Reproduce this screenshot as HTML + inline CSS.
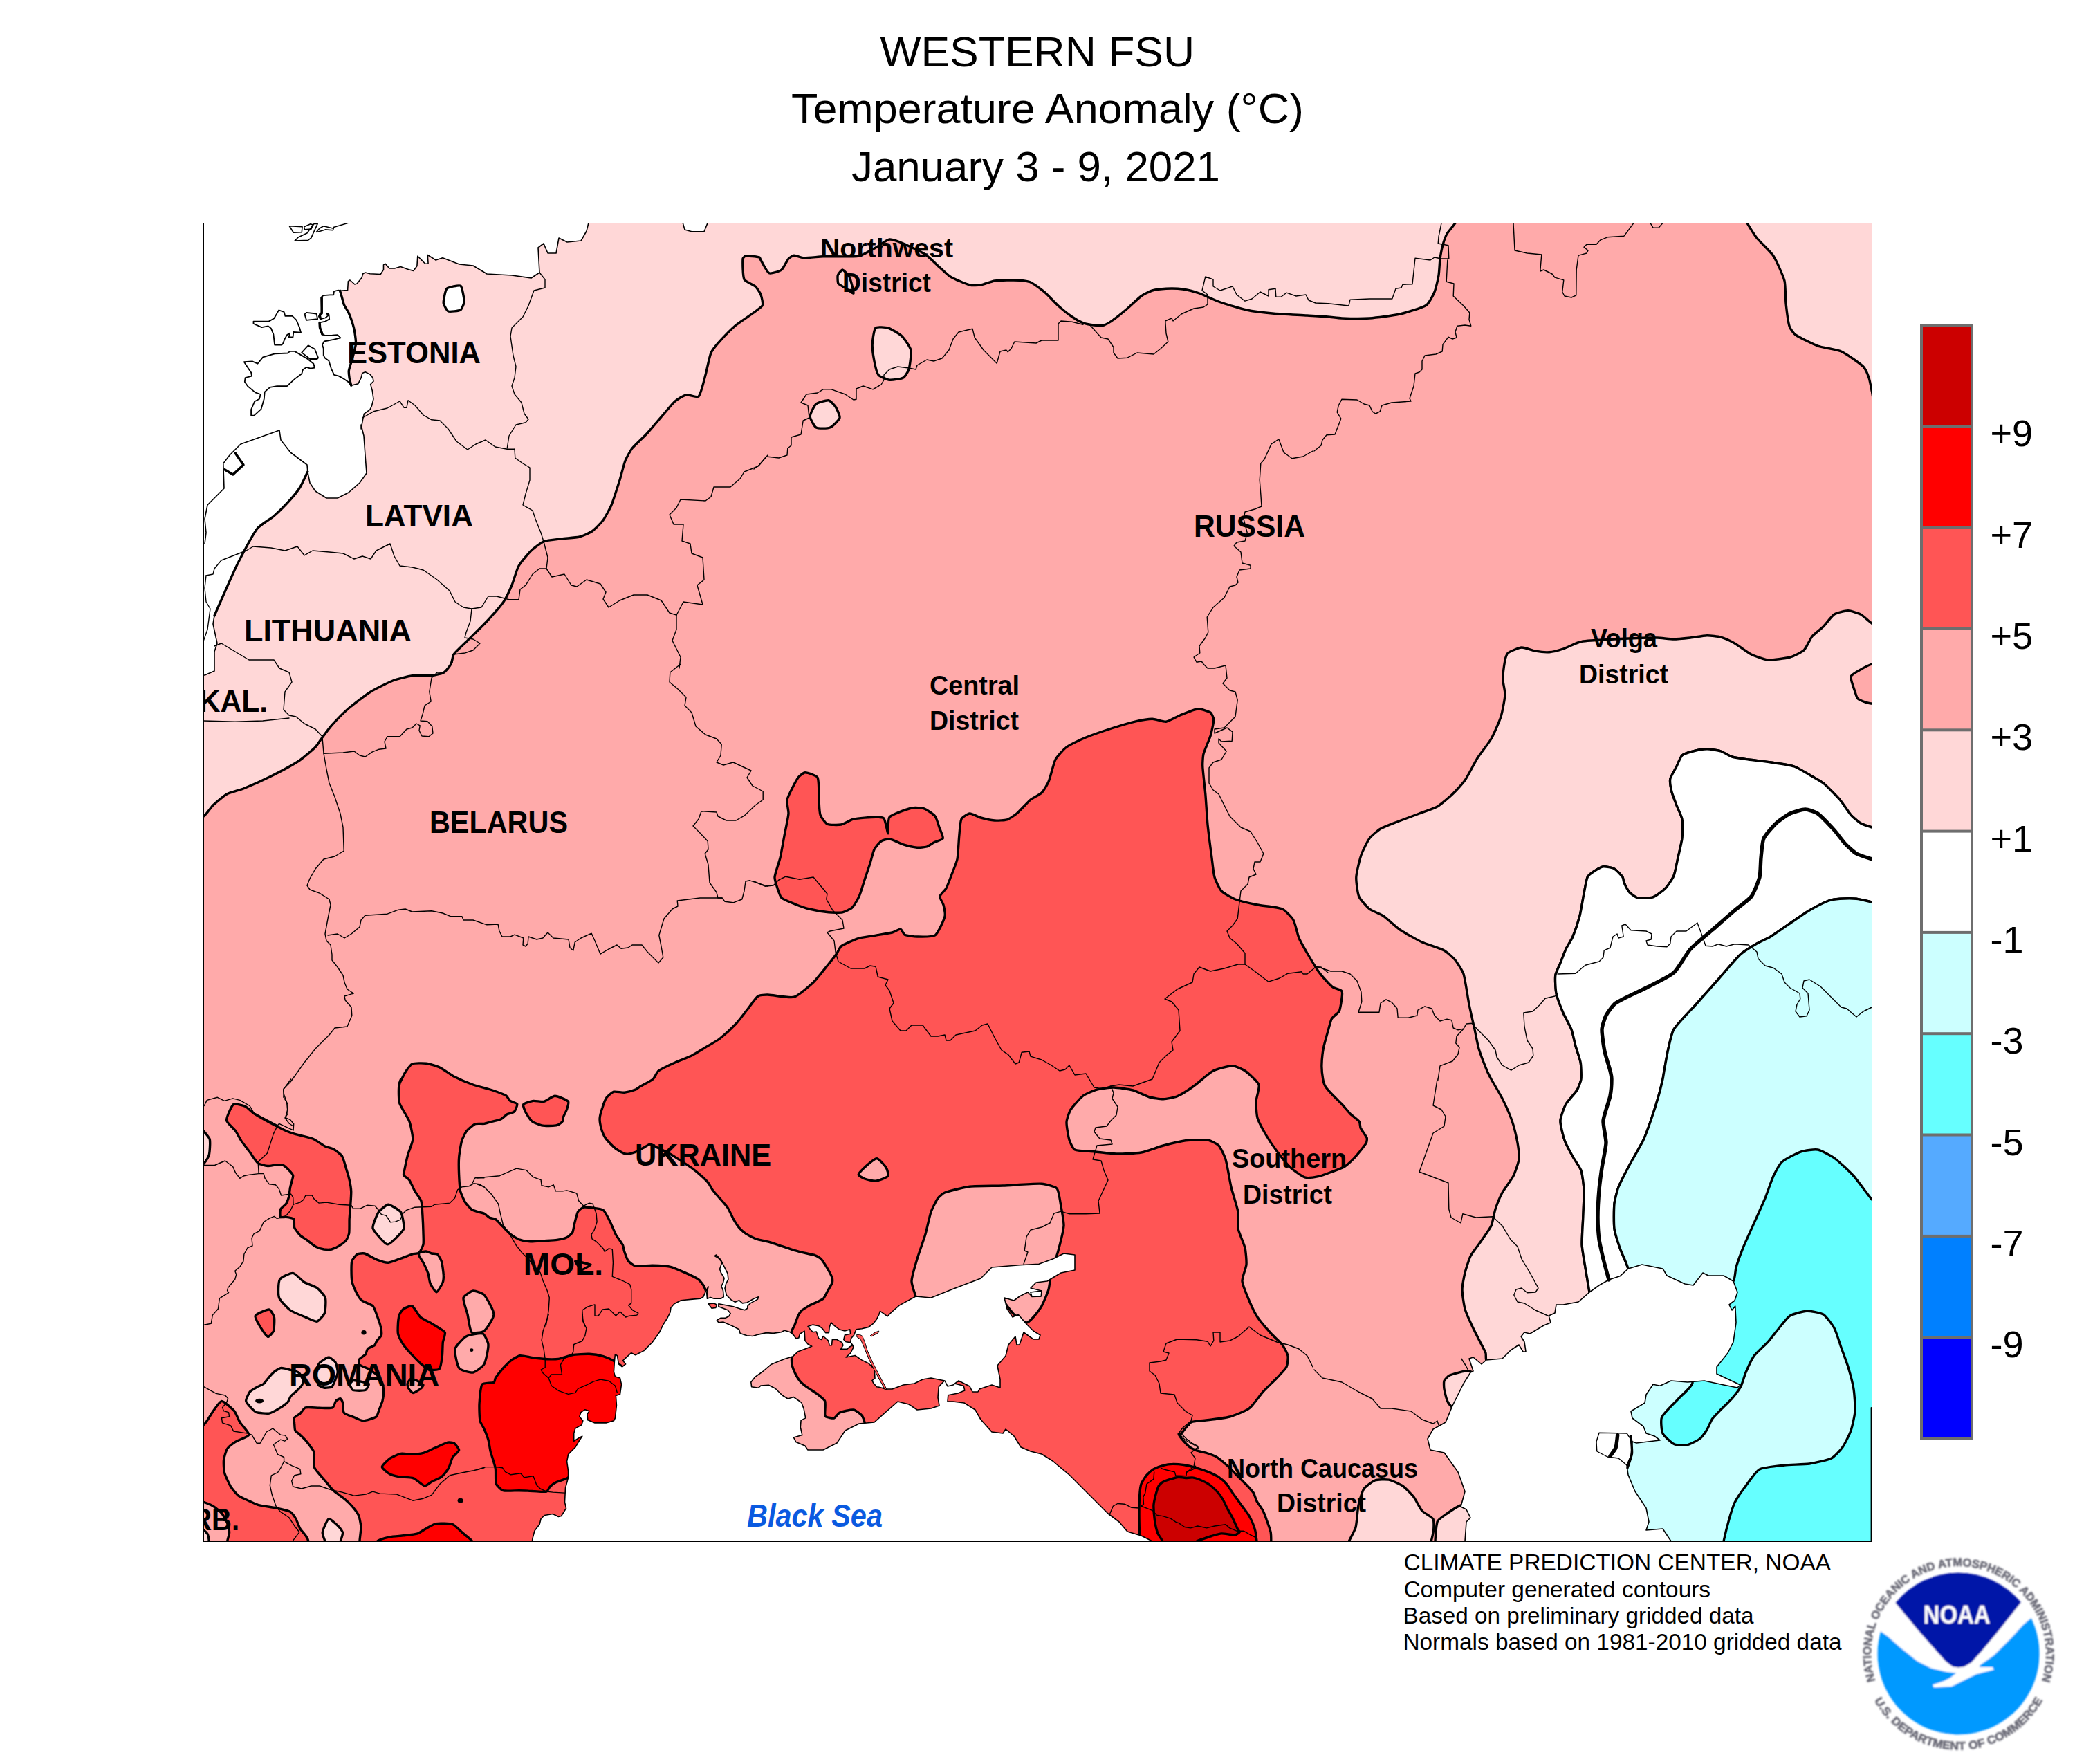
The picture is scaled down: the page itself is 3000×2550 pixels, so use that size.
<!DOCTYPE html>
<html><head><meta charset="utf-8"><title>Western FSU Temperature Anomaly</title>
<style>
html,body{margin:0;padding:0;background:#fff;}
body{width:3000px;height:2550px;overflow:hidden;font-family:"Liberation Sans",sans-serif;}
svg{display:block;}
text{font-family:"Liberation Sans",sans-serif;}
</style></head><body>
<svg width="3000" height="2550" viewBox="0 0 3000 2550">
<defs><clipPath id="mapclip"><rect x="294.5" y="322.5" width="2412.0" height="1906.0"/></clipPath></defs>
<rect width="3000" height="2550" fill="#fff"/>
<g clip-path="url(#mapclip)">
<rect x="294.5" y="322.5" width="2412.0" height="1906.0" fill="#FFAAAA"/>
<g stroke-linejoin="round" stroke-linecap="round">
<path d="M270 1185C270.1 1189.8 290.3 1182.3 294.4 1180C297.9 1178.1 305 1166.9 308 1164C311.7 1160.5 323.6 1150.4 328 1148C332.4 1145.6 347.3 1141.9 352 1140C360.1 1136.7 384.2 1125.9 392 1122C400.2 1117.9 424.4 1105 432 1100C437.2 1096.6 451.6 1084.4 456 1080C458.4 1077.6 463.9 1068.8 466 1066C468.7 1062.4 476.9 1051.4 480 1048C484.5 1043 498.9 1028.4 504 1024C510.1 1018.8 529.2 1004.2 536 1000C542 996.2 561.4 986.6 568 984C573.4 981.9 590.3 977.6 596 976.8C602.3 976 621.7 976.7 628 976C630.9 975.7 639.7 973.5 642 972C644.5 970.3 650.6 962.7 652 960C653.4 957.5 654.4 948.3 656 946C659.2 941.5 672 930 676 926C681.6 920.4 698.6 903.8 704 898C709 892.6 723.8 876 728 870C731 865.6 737.9 850.9 740 846C742.3 840.5 747.1 823.1 750 818C752.7 813.1 764 799.9 768 796C771.2 792.9 782 784.4 786 782.8C790.8 780.9 806.8 779.5 812 778.8C817.2 778.1 833 777.2 838 776C841.8 775.1 852.8 770.2 856 768C859.6 765.4 869.3 755.6 872 752C874.9 748 882.1 734.6 884 730C886.9 723 893.7 701.2 896 694C897.7 688.4 901.9 671.4 904 666C905.5 662.2 911.5 651.2 914 648C917.9 643.2 931.8 630.6 936 626C941 620.6 955.2 603.6 960 598C963.2 594.4 972.4 583.1 976 580C978.8 577.6 988.6 571.5 992 570.8C995.4 570.1 1008 575.3 1010 573.2C1013.6 569.5 1018.2 548.3 1020 542C1021.8 535.7 1025.5 516 1028 510C1029.5 506.4 1037.3 497 1040 494C1044.5 489 1058.8 474.4 1064 470C1071.2 464 1096.6 448.6 1102 442C1103.8 439.8 1101.1 429 1100 426C1099.1 423.4 1094.1 415.9 1092 414C1089.3 411.5 1077.4 407.1 1076 404C1073.8 399.1 1073.7 379.7 1074 374C1074.1 372.9 1076.9 370.1 1078 370C1081.7 369.7 1094.4 371 1098 372C1098.8 372.2 1099.5 375.2 1100 376C1102.3 379.8 1108.7 393.3 1112 394.8C1114.7 396.1 1127.2 392.1 1130 390C1132.8 387.9 1137.6 376.8 1140 374C1141.2 372.6 1146.3 369.3 1148 369.2C1150.7 369.1 1159.1 372.7 1162 372.8C1167.5 373 1184.4 371 1190 370.8C1200.4 370.4 1232 371.7 1242 370C1247.2 369.1 1261.3 360.6 1266 358C1270.1 355.8 1281.8 346.6 1286 346C1289.8 345.4 1302.2 350.4 1306 352C1312.6 354.8 1332.1 364.1 1338 368C1342.5 370.9 1354 382.4 1358 386C1361.2 388.8 1370.4 397.9 1374 400C1379.2 403.1 1396.2 410.4 1402 412C1405 412.8 1414.9 412.5 1418 412C1422.1 411.3 1433.9 406.5 1438 406C1445.1 405.1 1466.8 404.9 1474 405.2C1477.2 405.3 1487.1 406.7 1490 408C1494.3 410 1506.3 418.8 1510 422C1514.3 425.6 1525.8 438.2 1530 442C1533.8 445.4 1545.8 455.1 1550 458C1553 460.1 1562.6 465.5 1566 466.8C1569 467.9 1578.8 469.7 1582 470C1584.8 470.3 1593.4 470.7 1596 470C1599 469.1 1607.4 463.9 1610 462C1614.2 459.1 1626.1 449.3 1630 446C1634.1 442.5 1645.7 431.1 1650 428C1652.9 425.9 1662.6 421 1666 420C1669.8 418.9 1682 417.4 1686 417.2C1690.8 417 1705.3 417.3 1710 418C1714.9 418.7 1729.3 422.4 1734 424C1739.7 426 1756.3 434 1762 436C1769.9 438.8 1793.9 446.3 1802 448C1809.9 449.7 1834 452.5 1842 453.2C1851.6 454.1 1880.4 455.4 1890 456C1896 456.4 1914 457.5 1920 458C1924 458.3 1936 459.9 1940 460C1948 460.3 1972 460.6 1980 460C1988.8 459.4 2015.4 456 2024 454C2031.8 452.2 2055.6 445.3 2062 441.2C2065.6 438.9 2072.3 426.1 2074 422C2075.9 417.5 2079.2 402.9 2080 398C2080.8 393.3 2081.4 378.8 2082 374C2082.6 370 2084.9 357.9 2086 354C2086.9 350.7 2090.3 340.9 2092 338C2093.9 334.6 2102 325.7 2104 322.4C2106.4 318.5 2113.2 306.2 2114 302C2114.4 299.7 2112.5 290 2110 290C1743.7 287.6 517.6 169.6 270 290C149.6 348.6 265.3 1011.8 270 1185Z" fill="#FFD7D7" stroke="#000" stroke-width="3.4"/>
<path d="M2518 306C2514.8 306.3 2524.2 319.2 2526 322.4C2528.6 326.8 2536.8 340 2540 344C2544.4 349.5 2560.2 364.1 2564 370C2568.2 376.5 2578 398.5 2580 406C2581.6 412.1 2581.3 431.6 2582 438C2582.7 444.8 2585.2 465.6 2587.2 472C2588 474.8 2593.6 482.4 2596 484C2601.8 488 2621.3 497.6 2628 500C2634.5 502.4 2655.7 505.2 2662 508C2668.9 511.2 2688.5 524.8 2694 530C2696.5 532.4 2700.8 542.6 2702 546C2703.3 549.8 2705.5 562 2706.4 566C2707.5 570.8 2709.2 587.4 2712 590C2714.3 592.2 2731.7 593.7 2732 590C2735.7 536.9 2756.4 338.4 2732 306C2713.6 281.6 2556 303 2518 306Z" fill="#FFD7D7" stroke="#000" stroke-width="3.4"/>
<path d="M2724 910C2723.8 906.2 2709.7 903.3 2706.4 901.2C2702.9 898.9 2693.6 889.9 2690 888C2686.8 886.3 2675.6 882.8 2672 882.8C2668 882.8 2655.3 885.9 2652 888C2648.1 890.5 2639.4 902.6 2636 906C2633 909 2622.7 916.8 2620 920C2617.1 923.6 2611.3 936.9 2608 940C2604.9 942.9 2592.3 948.9 2588 950C2581.9 951.7 2562.3 954.4 2556 954C2551.1 953.6 2536.5 948.2 2532 946C2526.9 943.4 2513 932.8 2508 930C2504.2 927.9 2492.2 922.4 2488 921.2C2484.2 920.1 2472 918.7 2468 918.8C2463.2 918.9 2448.8 921.5 2444 922C2439.2 922.5 2424.8 924 2420 924C2415.2 924 2400.8 922.1 2396 922C2386.4 921.9 2357.6 922.8 2348 923.2C2338.4 923.6 2309.6 925.3 2300 926C2296.8 926.2 2287.1 927.1 2284 928C2279.1 929.5 2264.9 936.3 2260 938C2256.1 939.3 2244 942.5 2240 942.8C2236 943.1 2223.9 941.9 2220 941.2C2215.9 940.5 2203.9 935.7 2200 936C2195.9 936.3 2183.2 941.6 2180 944C2178.4 945.2 2176.4 951.9 2176 954C2175 959.5 2172.8 976.4 2172.8 982C2172.8 986.4 2176.2 999.6 2176 1004C2175.7 1010.4 2171.9 1029.8 2170 1036C2167.9 1042.6 2159.4 1062 2156 1068C2152.6 1074 2139.7 1090.2 2136 1096C2132.1 1102.2 2122.2 1122 2118 1128C2115 1132.4 2103.9 1144.3 2100 1148C2095.9 1151.9 2082.8 1163.2 2078 1166C2073.2 1168.8 2057.2 1174 2052 1176C2045.6 1178.4 2026.4 1185.5 2020 1188C2015.2 1189.9 2000.4 1195.4 1996 1198C1992.4 1200.2 1982.5 1208.6 1980 1212C1976.9 1216.2 1969.7 1231 1968 1236C1965.9 1242.2 1961.1 1261.6 1960.8 1268C1960.5 1273.6 1962.7 1291 1964.8 1296C1966.5 1300.2 1976.4 1311.1 1980 1314C1983.4 1316.7 1996.3 1321.5 2000 1324C2005.1 1327.5 2018.9 1340.5 2024 1344C2030.1 1348.1 2049.4 1358.9 2056 1362C2062.2 1364.9 2082.1 1370.8 2088 1374C2091.7 1376 2101.3 1384.8 2104 1388C2106.9 1391.6 2114.6 1403.6 2116 1408C2118.6 1416.4 2122.2 1443.2 2124 1452C2125.4 1459.2 2130.4 1480.8 2132 1488C2133.2 1493.6 2136.4 1510.5 2138 1516C2140 1522.5 2147.4 1541.7 2150 1548C2151 1550.5 2154.7 1557.6 2156 1560C2159.1 1565.6 2169.1 1582.2 2172 1588C2175.1 1594.2 2183.7 1613.4 2186 1620C2188.1 1626.2 2192.8 1645.5 2194 1652C2194.8 1656.7 2196.6 1671.3 2196 1676C2195.4 1680.9 2190.2 1695.5 2188 1700C2185.4 1705.1 2174.7 1719 2172 1724C2169.5 1728.6 2163.6 1743.1 2162 1748C2160.4 1752.7 2158 1767.6 2156 1772C2153.6 1777.2 2143.2 1791.2 2140 1796C2137.2 1800 2128.2 1811.7 2126 1816C2123.8 1820.5 2119.2 1835.1 2118 1840C2116.8 1844.7 2114 1859.2 2114 1864C2114 1869.6 2116.5 1886.6 2118 1892C2119.3 1897 2125.8 1911.3 2128 1916C2130.2 1920.9 2137.6 1935.2 2140 1940C2141.6 1943.2 2146.9 1952.7 2148 1956C2148.6 1957.9 2147.9 1964.2 2148.8 1966C2154.3 1977 2171.3 2022.6 2180 2020C2202.3 2013.4 2286.2 1942.9 2304 1920C2309.8 1912.5 2299.4 1878.4 2298 1868C2297 1860.8 2293.1 1839.2 2292 1832C2291 1825.6 2287.5 1806.4 2287.2 1800C2286.8 1792 2288.5 1768 2288.8 1760C2289.1 1752 2290.3 1728 2290 1720C2289.8 1714.4 2287.8 1697.3 2286 1692C2284.6 1687.7 2276.2 1676.1 2274 1672C2271.4 1667.3 2263.7 1653 2262 1648C2260.1 1642.6 2255.8 1625.5 2256 1620C2256.2 1615.1 2261.6 1600.4 2264 1596C2266.4 1591.6 2277.4 1580.3 2280 1576C2281.8 1573.1 2285.6 1563.3 2286 1560C2286.6 1555.3 2286 1540.7 2285.2 1536C2284.4 1531.1 2279.3 1516.8 2278 1512C2276.7 1507.2 2273.7 1492.6 2272 1488C2270.1 1483 2262.1 1468.9 2260 1464C2257.7 1458.5 2251.2 1441.8 2250 1436C2249 1431 2248.1 1415 2248.8 1410C2249.3 1406.2 2254.6 1395.6 2256 1392C2257.6 1388 2262.2 1375.9 2264 1372C2265.8 1368.3 2272.4 1357.8 2274 1354C2276.4 1348.2 2282.4 1330.1 2284 1324C2285.6 1317.7 2288.7 1298.4 2290 1292C2291 1287.2 2293.3 1272.3 2295.2 1268C2296.1 1265.9 2302 1261.3 2304 1260C2306.6 1258.3 2315.1 1253.2 2318 1252.8C2321.1 1252.4 2331.3 1254.5 2334 1256C2336.9 1257.5 2344.1 1265.3 2346 1268C2346.9 1269.3 2347.3 1274.5 2348 1276C2349.3 1278.9 2353.9 1287.7 2356 1290C2357.9 1292.1 2365.3 1297.5 2368 1298C2372.1 1298.8 2386 1298.2 2390 1296.8C2394 1295.4 2405 1287.1 2408 1284C2411 1281 2418.4 1269.9 2420 1266C2422 1261.1 2424.8 1245.2 2426 1240C2427.2 1234.4 2431.4 1217.7 2432 1212C2432.6 1206.5 2432.9 1189.4 2432 1184C2431.3 1179.8 2425.5 1168 2424 1164C2422.5 1160 2417.8 1148.1 2416.8 1144C2416 1140.5 2414.1 1129.4 2414.8 1126C2415.6 1122.2 2422.2 1111.6 2424 1108C2425.6 1104.8 2429.5 1094.3 2432 1092C2434.3 1089.9 2444.7 1086.8 2448 1086C2451.9 1085 2464 1082.8 2468 1082.8C2472 1082.8 2484.2 1084.8 2488 1086C2491.4 1087.1 2500.6 1093 2504 1094C2508.6 1095.4 2523.2 1097.3 2528 1098C2534.4 1098.9 2553.6 1101 2560 1102C2566.8 1103 2587.5 1105.9 2594 1108C2598.7 1109.5 2611.6 1117.5 2616 1120C2620 1122.3 2632.4 1129.1 2636 1132C2641.2 1136.3 2655.6 1150.9 2660 1156C2663.6 1160.1 2672.4 1173.9 2676 1178C2678.4 1180.7 2686.9 1188.2 2690 1190C2693 1191.8 2703.1 1195 2706.4 1196C2709.9 1197 2723.8 1203.4 2724 1200C2727.3 1146.2 2727.3 966 2724 910Z" fill="#FFD7D7" stroke="#000" stroke-width="3.4"/>
<path d="M2724 1200C2723.5 1196.8 2709.9 1197 2706.4 1196C2703.1 1195 2693 1191.8 2690 1190C2686.9 1188.2 2678.4 1180.7 2676 1178C2672.4 1173.9 2663.6 1160.1 2660 1156C2655.6 1150.9 2641.2 1136.3 2636 1132C2632.4 1129.1 2620 1122.3 2616 1120C2611.6 1117.5 2598.7 1109.5 2594 1108C2587.5 1105.9 2566.8 1103 2560 1102C2553.6 1101 2534.4 1098.9 2528 1098C2523.2 1097.3 2508.6 1095.4 2504 1094C2500.6 1093 2491.4 1087.1 2488 1086C2484.2 1084.8 2472 1082.8 2468 1082.8C2464 1082.8 2451.9 1085 2448 1086C2444.7 1086.8 2434.3 1089.9 2432 1092C2429.5 1094.3 2425.6 1104.8 2424 1108C2422.2 1111.6 2415.6 1122.2 2414.8 1126C2414.1 1129.4 2416 1140.5 2416.8 1144C2417.8 1148.1 2422.5 1160 2424 1164C2425.5 1168 2431.3 1179.8 2432 1184C2432.9 1189.4 2432.6 1206.5 2432 1212C2431.4 1217.7 2427.2 1234.4 2426 1240C2424.8 1245.2 2422 1261.1 2420 1266C2418.4 1269.9 2411 1281 2408 1284C2405 1287.1 2394 1295.4 2390 1296.8C2386 1298.2 2372.1 1298.8 2368 1298C2365.3 1297.5 2357.9 1292.1 2356 1290C2353.9 1287.7 2349.3 1278.9 2348 1276C2347.3 1274.5 2346.9 1269.3 2346 1268C2344.1 1265.3 2336.9 1257.5 2334 1256C2331.3 1254.5 2321.1 1252.4 2318 1252.8C2315.1 1253.2 2306.6 1258.3 2304 1260C2302 1261.3 2296.1 1265.9 2295.2 1268C2293.3 1272.3 2291 1287.2 2290 1292C2288.7 1298.4 2285.6 1317.7 2284 1324C2282.4 1330.1 2276.4 1348.2 2274 1354C2272.4 1357.8 2265.8 1368.3 2264 1372C2262.2 1375.9 2257.6 1388 2256 1392C2254.6 1395.6 2249.3 1406.2 2248.8 1410C2248.1 1415 2249 1431 2250 1436C2251.2 1441.8 2257.7 1458.5 2260 1464C2262.1 1468.9 2270.1 1483 2272 1488C2273.7 1492.6 2276.7 1507.2 2278 1512C2279.3 1516.8 2284.4 1531.1 2285.2 1536C2286 1540.7 2286.6 1555.3 2286 1560C2285.6 1563.3 2281.8 1573.1 2280 1576C2277.4 1580.3 2266.4 1591.6 2264 1596C2261.6 1600.4 2256.2 1615.1 2256 1620C2255.8 1625.5 2260.1 1642.6 2262 1648C2263.7 1653 2271.4 1667.3 2274 1672C2276.2 1676.1 2284.6 1687.7 2286 1692C2287.8 1697.3 2289.8 1714.4 2290 1720C2290.3 1728 2289.1 1752 2288.8 1760C2288.5 1768 2286.8 1792 2287.2 1800C2287.5 1806.4 2291 1825.6 2292 1832C2293.1 1839.2 2297 1860.8 2298 1868C2299.4 1878.4 2298.6 1919 2304 1920C2311 1921.4 2354 1890.3 2360 1880C2364 1873.1 2356.1 1843 2354 1834C2352.5 1827.8 2344.1 1810.1 2342 1804C2340.1 1798.5 2334.7 1781.7 2334 1776C2333.1 1768.9 2333.3 1747.1 2334 1740C2334.5 1735.1 2338.2 1720.6 2340 1716C2342.6 1709.4 2352.7 1690.3 2356 1684C2359.9 1676.7 2372.5 1655.4 2376 1648C2378.9 1641.8 2385.8 1622.5 2388 1616C2390.2 1609.7 2396.2 1590.4 2398 1584C2399.4 1579.2 2402.9 1564.8 2404 1560C2404.5 1557.6 2405.6 1550.4 2406 1548C2407.2 1541.6 2410.5 1522.3 2412 1516C2413.3 1510.3 2417 1492.8 2420 1488C2425 1480 2445.6 1459.2 2452 1452C2458.4 1444.8 2477.6 1423.2 2484 1416C2490.4 1408.8 2509 1386.5 2516 1380C2520.2 1376.1 2535 1366.9 2540 1364C2543.8 1361.7 2556.2 1356.3 2560 1354C2566.6 1349.9 2585.6 1336.4 2592 1332C2596.8 1328.8 2611 1318.9 2616 1316C2621.4 1312.9 2638.2 1304.2 2644 1302C2647 1300.9 2656.8 1299.4 2660 1299.2C2664.8 1298.9 2679.3 1298.7 2684 1299.2C2688.5 1299.7 2701.9 1303 2706.4 1304C2709.9 1304.8 2723.5 1311 2724 1308C2727 1290.2 2727 1219.2 2724 1200Z" fill="#FFFFFF" stroke="#000" stroke-width="3.4"/>
<path d="M2724 1308C2720.5 1308.3 2709.9 1304.8 2706.4 1304C2701.9 1303 2688.5 1299.7 2684 1299.2C2679.3 1298.7 2664.8 1298.9 2660 1299.2C2656.8 1299.4 2647 1300.9 2644 1302C2638.2 1304.2 2621.4 1312.9 2616 1316C2611 1318.9 2596.8 1328.8 2592 1332C2585.6 1336.4 2566.6 1349.9 2560 1354C2556.2 1356.3 2543.8 1361.7 2540 1364C2535 1366.9 2520.2 1376.1 2516 1380C2509 1386.5 2490.4 1408.8 2484 1416C2477.6 1423.2 2458.4 1444.8 2452 1452C2445.6 1459.2 2425 1480 2420 1488C2417 1492.8 2413.3 1510.3 2412 1516C2410.5 1522.3 2407.2 1541.6 2406 1548C2405.6 1550.4 2404.5 1557.6 2404 1560C2402.9 1564.8 2399.4 1579.2 2398 1584C2396.2 1590.4 2390.2 1609.7 2388 1616C2385.8 1622.5 2378.9 1641.8 2376 1648C2372.5 1655.4 2359.9 1676.7 2356 1684C2352.7 1690.3 2342.6 1709.4 2340 1716C2338.2 1720.6 2334.5 1735.1 2334 1740C2333.3 1747.1 2333.1 1768.9 2334 1776C2334.7 1781.7 2340.1 1798.5 2342 1804C2344.1 1810.1 2352.5 1827.8 2354 1834C2356.1 1843 2359.7 1870.7 2360 1880C2362.9 1955.9 2330.5 2222.5 2370 2260C2410.5 2298.5 2737.5 2315.5 2760 2260C2815.5 2123.5 2766.9 1483.4 2760 1300C2759.7 1293 2731.2 1307.5 2724 1308Z" fill="#CCFFFF" stroke="#000" stroke-width="3.4"/>
<path d="M2724 1752C2723.8 1747 2709.6 1737.8 2706.4 1734C2700.8 1727.4 2685.8 1706.4 2680 1700C2674.9 1694.4 2658.1 1678.5 2652 1674C2647.7 1670.9 2633.1 1663 2628 1662C2623.5 1661.1 2608.5 1663.2 2604 1664.8C2598.1 1666.8 2580.6 1675.9 2576 1680C2572.6 1683 2565.9 1695.8 2564 1700C2561.1 1706.2 2554.6 1725.7 2552 1732C2549 1739.3 2539.2 1760.8 2536 1768C2532.8 1775.2 2523 1796.7 2520 1804C2517.8 1809.5 2511.7 1826.3 2510 1832C2508.9 1835.9 2508.6 1849.1 2506 1852C2498.6 1860.3 2466.7 1878.9 2460 1888C2451.9 1898.9 2433.5 1939 2432 1952C2430.9 1961.2 2447.7 1990.4 2447 1999C2446.5 2004.5 2430.2 2017.9 2426 2022.6C2421.3 2027.8 2405.2 2042.7 2402.6 2048.6C2400.8 2052.6 2402.1 2068.1 2403.9 2072C2405.7 2075.9 2416.9 2085.9 2420.8 2087.8C2423.9 2089.3 2435.6 2089.7 2439 2089C2442.9 2088.2 2454.2 2082.4 2457.4 2080C2460 2078 2466 2069.8 2467.8 2067C2469.7 2064 2473.6 2053.9 2475.6 2051C2477.8 2047.9 2486 2039.8 2488.7 2037C2491.8 2033.8 2501.4 2024.7 2504.3 2021.3C2507.1 2018.1 2515 2007.8 2517 2004C2519 2000.3 2522.3 1987.9 2524 1984C2526.1 1979.1 2532.9 1964.3 2536 1960C2539.3 1955.5 2552.2 1944.2 2556 1940C2559.4 1936.2 2568.7 1923.9 2572 1920C2575.1 1916.3 2584.1 1904.4 2588 1902C2592.1 1899.5 2607.2 1895.4 2612 1895.2C2616.8 1895 2632.1 1897.6 2636 1900C2640.1 1902.5 2649.6 1915.6 2652 1920C2654.8 1925.2 2660 1942.4 2662 1948C2664 1953.6 2670.3 1970.3 2672 1976C2673.9 1982.3 2679 2001.5 2680 2008C2681 2014.3 2682.4 2033.7 2682 2040C2681.6 2045.7 2677.9 2062.6 2676 2068C2674.3 2073 2667 2087.7 2664 2092C2661.4 2095.7 2651.9 2106 2648 2108C2642.3 2110.8 2622.5 2115 2616 2116C2608.9 2117 2587.2 2117.2 2580 2118C2572.8 2118.8 2550 2120.8 2544 2124C2538.8 2126.8 2527.7 2143 2524 2148C2520.5 2152.6 2510.6 2166.9 2508 2172C2505.8 2176.5 2501.4 2191.1 2500 2196C2498.2 2202.3 2493.4 2221.6 2492 2228C2491 2232.8 2483.7 2251.6 2488 2252C2530.1 2256.4 2708.9 2284.1 2724 2252C2756.1 2184.1 2727.4 1850.6 2724 1752Z" fill="#66FFFF" stroke="#000" stroke-width="3.4"/>
<path d="M2720 958C2719.5 955.8 2709 959.1 2706.4 960C2703 961.1 2693.1 966.1 2690 968C2687 969.7 2676.7 975.2 2676 978C2675.1 981.6 2680.6 995.7 2682 1000C2682.6 1002.1 2684.5 1008.7 2686 1010C2688.1 1011.9 2697.1 1015.4 2700 1016C2703.9 1016.8 2719 1019.7 2720 1016.8C2723 1008.1 2722.2 967.2 2720 958Z" fill="#FFAAAA" stroke="#000" stroke-width="3.4"/>
<path d="M1266 474C1267.9 472 1280.7 473 1284 474C1288.3 475.4 1300.7 482.8 1304 486C1307.3 489.2 1315.9 501.6 1316.8 506C1317.9 511.2 1315.4 528.7 1314 534C1313.3 536.7 1308.3 544.7 1306 546C1302.7 547.8 1289.9 549.6 1286 549.2C1282.7 548.8 1272 544.5 1270 542C1267.6 539 1264.8 526.1 1264 522C1263.1 517.3 1261 502.8 1261.2 498C1261.4 493.2 1263.4 476.8 1266 474Z" fill="#FFD7D7" stroke="#000" stroke-width="3.4"/>
<path d="M1180 584C1182.6 581.8 1194.8 578.3 1198 578.8C1200.4 579.1 1206.6 585.8 1208 588C1209.8 590.8 1214.7 601.2 1214 604C1213.1 607.2 1203.4 616.6 1200 618C1196.6 619.4 1183 619.7 1180 618C1177.3 616.5 1171.2 605.2 1171.2 602C1171.2 598.4 1177.2 586.4 1180 584Z" fill="#FFD7D7" stroke="#000" stroke-width="3.4"/>
<path d="M1218 390C1219.6 390.2 1227 397.9 1228 400C1229.7 403.6 1234.6 422.3 1234 424C1233.6 425 1224 417.3 1222 416C1220.4 415 1212.9 411.5 1212 410C1211.1 408.5 1210.7 399.8 1211.2 398C1211.7 396.4 1216.8 389.9 1218 390Z" fill="#FFD7D7" stroke="#000" stroke-width="3.4"/>
<path d="M646 417.2C648 415.2 664 411.7 666 413.2C668.2 414.9 671.2 432.3 671.2 436C671.2 438.1 667.6 447 666 448C663.8 449.4 650.3 450.9 648 450C646.2 449.3 641.3 440.1 641.2 438C641 434.7 643.9 419.3 646 417.2Z" fill="#FFFFFF" stroke="#000" stroke-width="3.4"/>
<path d="M1092.8 1790.8C1089.9 1789.7 1081.3 1785.4 1078.7 1783.7C1076.4 1782.2 1070.3 1776.6 1068.5 1774.6C1066.7 1772.4 1061.9 1765 1060.4 1762.4C1058.7 1759.3 1054.3 1749.3 1052.3 1746.2C1050.6 1743.6 1044.3 1736.5 1042.2 1734.1C1039.8 1731.2 1032.3 1722.9 1030.1 1719.9C1028.7 1718 1025.5 1711.6 1024 1709.8C1022.2 1707.6 1016 1701.6 1013.9 1699.7C1011.5 1697.6 1004.3 1691.4 1001.7 1689.6C998.2 1687 987.2 1679.8 983.5 1677.4C980.3 1675.3 970.7 1669.2 967.3 1667.3C964.2 1665.5 954.4 1660.8 951.1 1659.2C948.9 1658.1 942.2 1654.2 940 1654.1C938.4 1654 933.5 1657.3 931.9 1658.2C929.3 1659.6 921.5 1664.2 918.7 1665.3C916.2 1666.2 908.1 1668.5 905.6 1668.3C903.3 1668.1 896.6 1664.5 894.5 1663.2C892.7 1662.2 887.8 1658.6 886.4 1657.2C884 1654.9 877 1647.7 875.2 1645C873.6 1642.5 870 1633.8 869.1 1630.9C868.4 1628.1 866.9 1619.5 867.1 1616.7C867.3 1613.4 870.1 1603.6 871.2 1600.5C872.1 1597.6 875.5 1588.7 877.2 1586.3C878.7 1584.3 885 1578.9 887.4 1578.2C890.1 1577.5 899.6 1579.5 902.6 1579.2C905.8 1578.9 915.6 1576.3 918.7 1575.2C920.1 1574.7 923.6 1571.9 924.8 1571.1C928.6 1568.8 940.7 1562.8 944 1560C946.2 1558.2 949.8 1549.7 952 1548C956.2 1544.9 971.1 1538.2 976 1536C980.7 1533.8 995.4 1528.3 1000 1526C1004.2 1523.9 1016 1516.4 1020 1514C1024 1511.6 1036.3 1504.8 1040 1502C1045.1 1498 1059.5 1484.7 1064 1480C1067.5 1476.3 1076.8 1464 1080 1460C1083.2 1456 1092.1 1442.8 1096 1440C1098.1 1438.4 1107.2 1437.9 1110 1438C1117.6 1438.2 1141.1 1443.1 1148 1441.2C1154.3 1439.5 1170.9 1424.8 1176 1420C1180.5 1415.7 1192.1 1400.9 1196 1396C1198.9 1392.5 1207.4 1381.7 1210 1378C1211.4 1376.1 1214.2 1369.3 1216 1368C1220.2 1365.1 1235 1358.4 1240 1356.8C1244.2 1355.4 1257.6 1353.6 1262 1352.8C1267.6 1351.8 1284.5 1349.3 1290 1348C1292.5 1347.4 1300 1342.8 1302 1343.2C1303.6 1343.5 1306.3 1350.4 1308 1351.2C1311.1 1352.6 1322.4 1353.9 1326 1354C1331.2 1354.1 1348.3 1354.7 1352 1352C1356.3 1348.8 1364.5 1330.5 1366 1324.8C1366.9 1321.7 1364.8 1311.2 1364 1308C1363.4 1305.5 1358.4 1298.2 1358.8 1296C1359.2 1293.4 1366.6 1286.6 1368 1284C1370 1280.2 1374.5 1268 1376 1264C1377.7 1259.6 1383.1 1246.6 1384 1242C1385.3 1235.4 1386.1 1214.8 1386.8 1208C1387.3 1203.2 1388.1 1188 1390 1184C1391.1 1181.6 1399.4 1176.2 1402 1176C1405 1175.8 1414.7 1181.1 1418 1182C1421.9 1183.1 1434 1185.7 1438 1186C1441.6 1186.3 1452.7 1185.8 1456 1184.8C1459.1 1183.8 1467.5 1178.1 1470 1176C1474.3 1172.4 1485.7 1159.6 1490 1156C1492.9 1153.6 1503.4 1148.6 1506 1146C1508.6 1143.4 1514.6 1133.5 1516 1130C1518.6 1123.9 1523 1103.8 1526 1098C1528.2 1093.8 1538.2 1082.8 1542 1080C1547 1076.4 1564.2 1068.4 1570 1066C1577.8 1062.8 1601.9 1054.6 1610 1052C1616.3 1050 1635.5 1044.3 1642 1042.8C1646.7 1041.7 1661.2 1039.2 1666 1039.2C1670 1039.2 1682.2 1043.7 1686 1043.2C1690.2 1042.7 1701.9 1035.6 1706 1034C1711.1 1032 1726.8 1025.3 1732 1024.8C1735.6 1024.5 1747.1 1028.1 1750 1030C1751.7 1031.1 1754.8 1037.9 1754.8 1040C1754.8 1044.7 1751.4 1059.3 1750 1064C1748.4 1069.3 1741.4 1084.7 1740 1090C1739.1 1093.5 1738.6 1104.4 1738.8 1108C1739.2 1116 1742.1 1140 1742.8 1148C1743.6 1156.8 1745.1 1183.2 1746 1192C1747 1201.6 1750.7 1230.4 1752 1240C1752.7 1245.6 1754.4 1262.6 1756 1268C1757.2 1272.2 1763.1 1284.9 1766 1288C1769.1 1291.3 1781.7 1298.3 1786 1300C1792.1 1302.3 1811.5 1306.7 1818 1308C1825.1 1309.5 1847.6 1311.3 1854 1314C1858 1315.7 1867.8 1326.2 1870 1330C1872.6 1334.6 1875.9 1351 1878 1356C1879.9 1360.6 1887.5 1373.7 1890 1378C1893.1 1383.3 1902.6 1398.9 1906 1404C1907.5 1406.2 1912.7 1412.5 1914.5 1414.5C1916.9 1417.2 1924.3 1425.2 1927.2 1427.2C1929.4 1428.8 1938.5 1430.8 1939.9 1432.7C1941 1434.1 1940.2 1441.4 1939.9 1443.6C1939.4 1447.2 1937.8 1458.5 1936.3 1461.7C1934.9 1464.3 1926.8 1470 1925.4 1472.6C1923.6 1475.8 1921 1487.1 1919.9 1490.7C1918.6 1495.4 1914.5 1509.5 1913.6 1514.3C1912.6 1519.3 1911 1534.7 1910.9 1539.7C1910.8 1543.7 1912 1555.8 1912.7 1559.7C1913.1 1562 1915.1 1568.7 1916.3 1570.6C1918 1573.4 1924.9 1580.9 1927.2 1583.3C1929.6 1585.9 1937.4 1593.4 1939.9 1596C1942.5 1598.8 1949.9 1607.8 1952.6 1610.5C1955 1612.9 1963.4 1618.8 1965.3 1621.4C1966.3 1622.8 1966.4 1628.8 1967.1 1630.5C1968.5 1633.6 1975 1642 1976.2 1645C1976.7 1646.3 1975.9 1651 1975.3 1652.3C1974.1 1654.6 1968.8 1661 1967.1 1663.2C1965 1665.8 1958.6 1673.5 1956.2 1675.9C1953.9 1678.2 1946.4 1685.1 1943.5 1686.8C1940.2 1688.7 1929 1692.6 1925.4 1694C1921.8 1695.4 1911 1699.6 1907.2 1700.4C1903.3 1701.2 1890.9 1703.3 1887.3 1702.2C1882.6 1700.8 1869.7 1691.4 1866 1688C1861.5 1683.8 1849.7 1669 1846 1664C1842.5 1659.4 1832.9 1645 1830 1640C1827.3 1635.4 1819.5 1621.1 1818 1616C1816.7 1611.5 1815.8 1596.8 1816 1592C1816.2 1587.2 1821.5 1572.1 1820 1568C1818.3 1563.3 1804.5 1551.2 1800 1548C1796.9 1545.8 1785.7 1540.8 1782 1540.8C1776.5 1540.8 1759 1545.4 1754 1548C1747.8 1551.2 1731.8 1565.9 1726 1570C1721.4 1573.3 1707.1 1582.6 1702 1584.8C1698.3 1586.4 1686 1588.7 1682 1588.8C1678 1588.9 1665.8 1587.1 1662 1586C1657 1584.6 1643 1577.3 1638 1576C1632.6 1574.5 1615.6 1572.1 1610 1572C1605.2 1571.9 1590.6 1573.9 1586 1575.2C1581.8 1576.3 1569.4 1581.4 1566 1584C1561.8 1587.2 1550.8 1599.5 1548 1604C1546 1607.1 1542.2 1618.3 1542 1622C1541.8 1627.1 1544.5 1643 1546 1648C1546.9 1651 1551.4 1660.8 1554 1662C1558.6 1664.1 1576.4 1664.2 1582 1664.8C1588.4 1665.4 1607.6 1667.9 1614 1668C1621.2 1668.1 1643 1667.2 1650 1666C1656.6 1664.8 1675.5 1657.7 1682 1656C1688.3 1654.3 1707.5 1649.6 1714 1648.8C1720.3 1648 1739.8 1647.1 1746 1648C1749.4 1648.5 1759.7 1653.5 1762 1656C1764.9 1659.1 1770.7 1671.8 1772 1676C1774.3 1683.8 1778.1 1708.1 1780 1716C1781.7 1723.3 1788.8 1744.7 1790 1752C1790.8 1756.7 1789.1 1771.4 1790 1776C1791.1 1781.8 1798.7 1798.3 1800 1804C1801.1 1808.7 1802.4 1823.3 1802 1828C1801.6 1832.9 1795.6 1847.3 1796 1852C1796.4 1857.7 1803.7 1874.5 1806 1880C1808.1 1884.9 1815 1899.6 1818 1904C1821.4 1909.2 1833.8 1923.4 1838 1928C1841 1931.4 1851.3 1940.4 1854 1944C1856.1 1946.8 1861.4 1956.6 1862 1960C1862.6 1963 1861.4 1973.2 1860 1976C1858.2 1979.6 1848.9 1988.9 1846 1992C1842.1 1996.1 1829.8 2007.8 1826 2012C1821.8 2016.6 1810.9 2032.4 1806 2036C1801.3 2039.6 1783.8 2046.4 1778 2048C1771.8 2049.7 1752.4 2051.9 1746 2052.8C1741.2 2053.5 1726 2054 1722 2056C1718.4 2057.8 1711 2069.1 1708 2072C1707.4 2072.5 1704 2072.5 1704.1 2073C1704.4 2074.4 1708.5 2080.1 1709.9 2081.7C1711.7 2083.9 1717.7 2090.1 1720 2091.8C1721.8 2093.1 1728 2096.1 1730.1 2096.9C1732.9 2097.9 1741.7 2099.6 1744.6 2100.5C1747.5 2101.4 1756.4 2104.7 1759 2106.3C1762.2 2108.1 1770.7 2115.4 1773.5 2117.8C1776.5 2120.6 1785.1 2129.4 1787.9 2132.3C1790.8 2135.2 1799.6 2143.8 1802.4 2146.7C1804.5 2149 1810.9 2155.7 1812.5 2158.3C1813.8 2160.4 1815.7 2167.7 1816.9 2169.9C1818.3 2172.6 1824.1 2180.1 1825.5 2182.9C1827 2185.6 1830.3 2194.4 1831.3 2197.3C1832.6 2200.8 1836.4 2211.1 1837.1 2214.7C1837.7 2217.4 1837.8 2225.7 1837.8 2228.4C1837.9 2235.2 1843.7 2261.5 1837.8 2262.4C1798.2 2268.6 1655.6 2263.9 1610 2264C1538 2264.2 1300.3 2284.6 1250 2264C1229.9 2255.8 1258 2148.7 1258 2120C1258 2107.1 1252.1 2068.7 1250 2056C1249.7 2053.9 1247.4 2047.5 1246 2046C1244.2 2043.9 1236.7 2038.3 1234 2038C1230.3 2037.5 1217.6 2040.5 1214 2042C1212 2042.9 1207.9 2049.4 1206 2050C1203.9 2050.6 1196.1 2048.8 1194 2048C1193.4 2047.8 1192.7 2045.6 1192.7 2045C1192.4 2041.1 1193.9 2028.7 1192.7 2025.3C1191.7 2022.7 1184.3 2017.2 1182 2015.4C1179.2 2013.2 1170 2007.6 1167.2 2005.5C1165.1 2004 1159 1999.2 1157.3 1997.3C1155.7 1995.6 1151.8 1989.5 1150.7 1987.4C1149.3 1984.6 1145.6 1975.7 1145 1972.6C1144.5 1970.4 1144.2 1963.2 1145 1961.1C1146 1958.3 1154.1 1950.8 1154 1948C1153.9 1943.9 1144.8 1930.9 1144.1 1926.6C1143.8 1924.3 1148.2 1917.4 1149.1 1915.1C1150.1 1912.5 1152.8 1904.5 1154 1901.9C1154.8 1900.3 1157.7 1895.7 1158.9 1894.5C1160.9 1892.7 1168.1 1888.5 1170.5 1887.1C1174.3 1885 1186.9 1879.9 1190.2 1877.3C1192.2 1875.7 1195.4 1868.1 1196.8 1865.8C1198.1 1863.5 1202.5 1856.7 1203.3 1854.3C1203.8 1853.1 1203.7 1848.9 1203.3 1847.7C1202.4 1845 1198.3 1837.1 1196.8 1834.5C1195 1831.5 1189.2 1822.3 1186.9 1819.7C1185.6 1818.3 1180.5 1815.4 1178.7 1814.8C1175.2 1813.6 1164.2 1811.6 1160.6 1810.7C1157.6 1809.9 1148.7 1807.5 1145.8 1806.6C1142.8 1805.7 1134 1802.6 1131 1801.6C1127.6 1800.5 1117.4 1797 1114 1796C1109.8 1794.8 1096.9 1792.2 1092.8 1790.8Z" fill="#FF5555" stroke="#000" stroke-width="3.4"/>
<path d="M1268 1674.8C1270.9 1675.2 1279.3 1685 1281.2 1688C1282.5 1690 1285.2 1698.5 1284 1700C1282.1 1702.3 1269.7 1706.8 1266 1707.2C1262.9 1707.6 1253 1705.1 1250 1704C1248 1703.3 1240.9 1699.4 1241.2 1698C1241.7 1695.4 1251.2 1686.5 1254 1684C1256.5 1681.8 1265.4 1674.4 1268 1674.8Z" fill="#FFAAAA" stroke="#000" stroke-width="3.4"/>
<path d="M1366 1724C1372.8 1721.5 1394.7 1716.1 1402 1715.2C1411.5 1714.1 1440.4 1714.4 1450 1714C1461.2 1713.6 1494.9 1710.6 1506 1711.2C1510.5 1711.4 1525.4 1715 1528 1718C1531 1721.5 1533 1738.8 1534 1744C1535 1749.6 1538.3 1766.4 1538 1772C1537.5 1779.2 1531.9 1800.9 1530 1808C1528.3 1814.5 1521.6 1833.5 1520 1840C1518.8 1844.7 1517.4 1859.4 1516 1864C1514.6 1869 1508.5 1883.5 1506 1888C1504.1 1891.5 1496.7 1901.1 1494 1904C1492.3 1905.9 1486.1 1912.3 1484 1912C1480.5 1911.5 1469.1 1902.9 1466 1900C1462.3 1896.5 1453.4 1883.8 1450 1880C1447 1876.6 1438 1864 1434 1864C1423.6 1864 1389.3 1877.4 1378 1880C1368.5 1882.2 1338.2 1888.9 1330 1888C1327.4 1887.7 1325 1876.9 1324 1874C1322.6 1869.7 1317.8 1856.4 1318 1852C1318.2 1845.6 1324.1 1826.3 1326 1820C1328.1 1812.7 1335.9 1791.3 1338 1784C1339.9 1777.7 1343.9 1758.2 1346 1752C1347.5 1747.8 1353.5 1735.6 1356 1732C1357.5 1730 1363.6 1724.9 1366 1724Z" fill="#FFAAAA" stroke="#000" stroke-width="3.4"/>
<path d="M1164 1116.8C1167.4 1116.8 1180.5 1121 1182 1124C1184.5 1128.9 1183.5 1149.6 1184 1156C1184.3 1160.4 1184.6 1174 1186 1178C1187 1181 1193.3 1189.9 1196 1191.2C1199.3 1192.7 1212.2 1192.7 1216 1192C1219.8 1191.3 1230.2 1184.8 1234 1184C1240.2 1182.7 1259.6 1181.3 1266 1181.2C1268.4 1181.2 1276.7 1181.5 1278 1183.2C1280.3 1186.3 1283.2 1205 1284 1204.8C1284.8 1204.6 1283.2 1184.2 1286 1181.2C1290 1176.8 1311.4 1169.6 1318 1168C1321.4 1167.2 1332.7 1167.6 1336 1168.8C1339.5 1170 1349.7 1177.1 1352 1180C1354.1 1182.5 1356.9 1192.8 1358 1196C1359.1 1199.2 1364.1 1209.6 1363.2 1212C1362.5 1214 1352.6 1216.7 1350 1218C1347.9 1219.1 1342.2 1223.3 1340 1224C1337.4 1224.8 1328.8 1225.5 1326 1225.2C1322 1224.8 1309.9 1222 1306 1220.8C1301.9 1219.5 1290.1 1213.4 1286 1212.8C1283.7 1212.4 1275.9 1214.7 1274 1216C1271.5 1217.7 1265.4 1225.3 1264 1228C1262.2 1231.7 1259.3 1244 1258 1248C1256.5 1252.8 1251.6 1267.2 1250 1272C1248.4 1276.8 1244.1 1291.4 1242 1296C1240.5 1299.4 1234.6 1309.5 1232 1312C1229.8 1314.1 1221 1318.2 1218 1318.8C1214.2 1319.6 1202 1319.2 1198 1318.8C1192.4 1318.2 1175.5 1315.3 1170 1314C1165.9 1313 1153.9 1308.8 1150 1307.2C1145.9 1305.6 1133.1 1300.7 1130 1298C1127.9 1296.1 1125 1286.9 1124 1284C1123 1280.9 1119.7 1271.2 1120 1268C1120.5 1262.4 1126.7 1245.7 1128 1240C1129.5 1233.7 1132.8 1214.4 1134 1208C1135.2 1201.6 1139.5 1182.4 1140 1176C1140.3 1172 1137 1159.7 1138 1156C1139.8 1149.3 1150.1 1129.8 1154 1124C1155.3 1122 1161.8 1116.8 1164 1116.8Z" fill="#FF5555" stroke="#000" stroke-width="3.4"/>
<path d="M756.8 1596.4C758.1 1594.6 768.1 1591.8 771 1591.4C773.9 1591 783.3 1593 786.2 1592.4C789.6 1591.6 799.1 1584.3 802.3 1584.3C806.1 1584.3 819.3 1589.9 821.6 1592.4C822.8 1593.7 820.2 1601.4 819.6 1603.5C818.8 1605.8 815.3 1612.4 814.5 1614.7C814.1 1615.8 814.1 1619.8 813.5 1620.7C812.7 1622 808.8 1625.1 807.4 1625.8C806 1626.5 801 1627.3 799.3 1627.4C796.1 1627.5 786.2 1627.5 783.1 1626.8C780.2 1626.2 771.2 1622.6 768.9 1620.7C766.6 1618.8 761.2 1610.4 759.8 1607.6C758.8 1605.5 755.8 1597.8 756.8 1596.4Z" fill="#FF5555" stroke="#000" stroke-width="3.4"/>
<path d="M337.7 1596.4C339.9 1594.8 351.8 1598.1 354.9 1599.5C357.7 1600.7 364.4 1607.9 367 1609.6C373.7 1613.8 394.5 1625.2 401.5 1628.8C405.4 1630.9 417.5 1636.5 421.7 1637.9C427.6 1640 446.3 1643.7 452.1 1646C456 1647.6 466.5 1655.3 470.3 1657.2C472.6 1658.3 480.3 1659.9 482.4 1661.2C485.1 1662.8 492.9 1668.8 494.6 1671.3C496.6 1674.4 499.5 1685.9 500.6 1689.6C501.8 1693.2 504.9 1704.1 505.7 1707.8C506.3 1710.6 507.6 1719.1 507.7 1721.9C507.9 1726 507 1738.1 506.7 1742.2C506.5 1746.2 505.3 1758.4 505.1 1762.4C504.9 1766.5 505.3 1778.7 504.7 1782.7C504.4 1784.8 501.9 1791.1 500.6 1792.8C499.1 1794.8 492.7 1799.5 490.5 1800.9C488.5 1802.2 481.7 1805.4 479.4 1806C477.3 1806.4 470.4 1806.3 468.3 1806C465.8 1805.5 458.3 1803.1 456.1 1801.9C453.5 1800.5 446.4 1794.6 444 1792.8C442 1791.3 435.6 1787.4 433.8 1785.7C431.9 1783.8 426.7 1777 425.7 1774.6C424.9 1772.4 426 1764 424.7 1762.4C423.6 1761 415.9 1759.7 413.6 1759.4C412 1759.1 406.2 1760.3 405.5 1759.4C404.6 1758.1 404.7 1750.2 405.5 1748.3C406.3 1746.3 412.4 1742 413.6 1740.2C414.8 1738.4 417.1 1732.1 417.7 1730C418.3 1727.3 419.1 1718.7 419.7 1715.9C420.3 1712.6 423.7 1702.8 423.7 1699.7C423.7 1698.3 420.7 1694.7 419.7 1693.6C417.8 1691.6 411.9 1685.6 409.6 1684.5C407.8 1683.7 401.4 1683.8 399.4 1683.9C397 1684 389.7 1685.7 387.3 1685.5C384.4 1685.2 375.3 1683.2 373.1 1681.5C370.1 1679.1 363.4 1668.5 361 1665.3C358.5 1662 351.1 1652.4 348.8 1649.1C347 1646.4 342.6 1637.5 340.7 1634.9C338.4 1631.7 327.8 1623.1 327.6 1619.7C327.2 1615.4 334.5 1598.8 337.7 1596.4Z" fill="#FF5555" stroke="#000" stroke-width="3.4"/>
<path d="M286.1 1626.8C286.4 1625 293.5 1634 295.2 1635.9C297 1638 302.7 1644.5 303.3 1647C304.2 1651.2 303.3 1665.1 302.3 1669.3C301.6 1672 296.9 1679.3 295.2 1681.5C293.7 1683.3 286.4 1691.3 286.1 1689.6C284.5 1680.4 284.6 1635.7 286.1 1626.8Z" fill="#FFD7D7" stroke="#000" stroke-width="3.4"/>
<path d="M596 1538C599.4 1536.6 612.1 1536.7 616 1537.2C620.1 1537.7 632.3 1541.4 636 1543.2C640.3 1545.2 651.8 1553.8 656 1556C661.4 1558.8 678.3 1566 684 1568C689.5 1570 706.5 1574.2 712 1576C716.1 1577.4 728.4 1581.8 732 1584C733.5 1584.9 736.1 1590.3 737.6 1591.4C739.3 1592.7 747.1 1594.5 747.7 1596C748.3 1597.6 745.1 1605.4 743.6 1607C742.3 1608.4 735.4 1609.6 733.5 1610.6C731.5 1611.7 726.5 1616.7 724.4 1617.7C721.8 1618.9 713.1 1621 710.2 1621.7C708.2 1622.3 702.2 1624.1 700.1 1624.4C697.5 1624.7 689.2 1623.8 686.9 1624.8C684.1 1625.9 676.7 1632.5 674.7 1634.9C672.8 1637.3 668.5 1646.1 667.7 1649.1C666.3 1653.7 664 1668.5 663.6 1673.4C663.2 1678.2 663.4 1692.8 663.6 1697.7C663.8 1702.5 664.6 1717.2 665.6 1721.9C666.4 1725.3 670.9 1735.2 672.7 1738.1C674.1 1740.4 679.7 1746.7 681.8 1748.3C683.7 1749.6 690.7 1751.6 693 1752.3C694.4 1752.8 698.8 1753.6 700.1 1754.3C701.9 1755.3 706.4 1759.5 708.2 1760.4C709.7 1761.1 715 1761.5 716.3 1762.4C718.6 1764 724.4 1770.5 726.4 1772.6C728.9 1775 735.9 1782.6 738.6 1784.7C740.8 1786.4 748.1 1790.8 750.7 1791.8C753.8 1792.9 763.7 1794.6 766.9 1794.8C770.5 1795 781.5 1794 785.1 1793.8C789.2 1793.5 801.4 1793 805.4 1792.4C808.3 1792 817 1790 819.6 1788.7C821.4 1787.8 826.7 1783.5 827.7 1781.7C828.9 1779.4 830 1771.1 830.7 1768.5C831.6 1765 834.1 1754.3 835.7 1751.3C836.7 1749.6 842 1745.6 843.8 1745.2C846.4 1744.6 855.2 1745.8 858 1746.2C860.9 1746.6 870.1 1747.6 872.2 1749.3C875 1751.6 880.5 1762.9 882.3 1766.5C884.1 1770 888.5 1781.2 890.4 1784.7C892.1 1787.9 898.9 1796.7 900.5 1799.9C901.3 1801.5 901.9 1807.2 902.6 1809C903.6 1811.9 906.8 1820.8 908.6 1823.2C910.1 1825 916.4 1829.8 918.7 1830.2C923.3 1831 938.2 1829.1 943 1829.2C948.3 1829.3 964.3 1830.1 969.4 1831.3C973.6 1832.2 985.6 1837.6 989.6 1839.4C993.7 1841.2 1006.2 1846.9 1009.8 1849.5C1011.9 1850.9 1016.7 1857.4 1017.9 1859.6C1019.1 1861.8 1021.5 1869.3 1022 1871.7C1022.1 1872.5 1020.6 1874.9 1020.8 1875.6C1024.2 1886.5 1039.4 1918.6 1040 1930C1043.3 1995.8 1080.5 2237.5 1040 2262C976.5 2300.4 620.8 2250.7 519.9 2244.1C516.8 2243.9 519.7 2231.5 519.9 2228.3C520.1 2224.2 522 2211.8 521.9 2207.7C521.8 2204.4 520 2194.5 518.9 2191.5C517.8 2188.8 512.6 2181.6 510.8 2179.4C508.6 2176.7 501.2 2169.4 498.6 2167.2C495.6 2164.6 485.4 2157.8 482.4 2155.1C479.7 2152.5 472.7 2143.8 470.3 2140.9C467 2136.9 455.9 2125.2 454.1 2120.6C452.6 2116.9 455.3 2103.3 454.1 2099.4C452.9 2095.6 444.6 2085.5 441.9 2082.2C440.5 2080.4 435.5 2075.7 433.8 2074.1C432.5 2072.8 427.5 2069.6 426.8 2068C425.9 2066.3 425.9 2059.9 425.7 2057.9C425.6 2056.2 424.5 2050.9 425.2 2049.6C426.2 2047.9 432.6 2044.5 434.2 2043.1C435.8 2041.6 439.6 2035.4 441.6 2034.9C445.1 2033.9 457.3 2035.2 461.3 2035.2C465.2 2035.2 477.8 2036.2 480.9 2034.9C482.7 2034.1 484.5 2026.6 485.8 2025C486.7 2024 491.4 2021.4 492.4 2021.8C493.4 2022.1 495.3 2026.9 495.7 2028.3C496.3 2031 495.8 2040.3 497.3 2042.2C499.1 2044.4 509.1 2047.6 512 2048.8C514.6 2049.9 522.5 2053.8 525.2 2053.7C528.9 2053.6 541 2050 544 2048C545.6 2046.9 547.3 2040.1 548.1 2038.1C549.1 2035.5 552.3 2027.7 553 2025C553.6 2022.5 554.6 2014.5 554.6 2011.9C554.6 2009.6 553.8 2002.6 553 2000.5C552.1 1998 548.2 1990.9 546.5 1989C544.3 1986.6 536.1 1980.8 533.3 1979.2C530.7 1977.6 521.3 1974.5 519.4 1972.6C518.5 1971.7 518.7 1966.4 519.4 1965.2C520.5 1963.4 527 1959.6 528.4 1957.9C529.5 1956.5 530.5 1950.8 531.7 1949.7C533.2 1948.2 540 1946.1 541.5 1944.7C542.6 1943.8 544 1939.4 544.8 1938.2C546 1936.5 550.9 1931.9 551.4 1930C552 1927.7 550.8 1919.6 550.2 1917.1C549.6 1914 546.3 1905.1 545.2 1902.1C544.1 1899.2 541.2 1890 539.1 1887.9C536.7 1885.5 525.6 1882.1 522.9 1879.8C520.7 1878 516.1 1870.3 514.8 1867.7C513.3 1864.6 509.2 1854.9 508.7 1851.5C508 1846 507.6 1828.4 508.7 1823.2C509.3 1820.7 514.8 1814.3 516.8 1813C518.4 1812.1 525.1 1811.5 527 1812C530.7 1813.1 541.4 1819.7 545.2 1821.1C548.3 1822.3 558.2 1825.4 561.4 1825.2C565.1 1825 576 1820.4 579.6 1819.1C582.9 1818 592.5 1814.1 595.8 1813C597.8 1812.4 604.5 1812.2 605.9 1811C607.8 1809.4 611.4 1801.5 612 1798.9C612.6 1795.8 612.1 1785.9 612 1782.7C611.9 1777.8 611.3 1763.2 611 1758.4C610.7 1753.9 610.2 1740.3 608.9 1736.1C608 1733 601.5 1724.9 599.8 1721.9C598.1 1718.8 593.8 1708.7 591.7 1705.7C590.5 1704 584.5 1700.4 583.6 1698.7C583.1 1697.5 584.4 1693 584.7 1691.6C585.6 1687.1 588.5 1673.7 589.7 1669.3C590.9 1664.8 596.6 1651.6 596.8 1647C597 1641.9 593.6 1625.7 591.7 1620.7C589.7 1615.2 579.3 1600 577.6 1594.4C576.3 1590.3 576.3 1576.6 576.6 1572.1C576.7 1569.7 579.6 1560.5 579.6 1560C579.6 1559.7 576.4 1568.6 576.8 1568C577.7 1566.6 583.8 1553.4 586 1550C587.7 1547.4 593.4 1539.1 596 1538Z" fill="#FF5555" stroke="#000" stroke-width="3.4"/>
<path d="M267.9 2061.9C268.5 2057.3 290 2062.2 294.2 2059.9C298.1 2057.8 305.3 2043.6 308.3 2039.7C310.6 2036.7 317.8 2025.5 320.5 2025.5C323.8 2025.5 335.8 2036.3 338.7 2039.7C341 2042.3 344.9 2052.8 346.8 2055.9C349.2 2059.7 360.6 2071.2 360 2074.1C359.4 2076.9 344.4 2081.9 340.7 2084.2C338.1 2085.9 330.2 2091.8 328.6 2094.3C326.8 2097.1 323.9 2107.2 323.5 2110.5C323.1 2114.1 323.6 2125.3 324.5 2128.7C325.6 2133 331.4 2145.2 333.6 2149C335.4 2151.9 342.1 2160 344.8 2162.1C347.2 2164.1 356.1 2167.9 358.9 2169.2C361.7 2170.5 370.2 2174.5 373.1 2175.3C378.7 2176.8 395.8 2179.1 401.5 2180.4C405.1 2181.2 416.6 2183.6 419.7 2185.4C421.8 2186.7 426.5 2193.3 427.8 2195.5C429.3 2198.2 432.3 2207.1 433.8 2209.7C435.1 2211.9 440.5 2217.7 441.9 2219.8C443 2221.4 445.6 2226.5 446 2228.3C446.8 2232.2 451.6 2247.8 448 2248.2C415.9 2251.8 285.6 2266.5 267.9 2248.2C249.5 2229.2 263.2 2094.9 267.9 2061.9Z" fill="#FF5555" stroke="#000" stroke-width="3.4"/>
<path d="M267.9 2168.2C269.2 2164.4 289.1 2170.1 294.2 2171.3C297.1 2171.9 305.7 2175.7 308.3 2177.3C311 2179 318.5 2185 320.5 2187.4C322.8 2190.3 328.3 2200.2 329.6 2203.6C330.5 2205.9 331.7 2213.4 331.6 2215.8C331.5 2218.3 328.9 2225.8 328.6 2228.3C328.1 2232.3 330.6 2247.2 327.6 2248.2C318.5 2251.2 273 2255 267.9 2248.2C261 2239 263.9 2179.8 267.9 2168.2Z" fill="#FFAAAA" stroke="#000" stroke-width="3.4"/>
<path d="M267.9 2201.6C269.8 2198.9 289.2 2209.3 294.2 2211.7C295.7 2212.5 299.5 2216.3 300.2 2217.8C301.1 2219.7 302.1 2226.2 302.3 2228.3C302.6 2232.3 305.2 2246.7 302.7 2248.2C298.3 2250.7 270.8 2252.2 267.9 2248.2C263.9 2242.9 264.6 2206.2 267.9 2201.6Z" fill="#FFD7D7" stroke="#000" stroke-width="3.4"/>
<path d="M605.9 1811C607.4 1810.1 614 1808.9 616 1809C617.7 1809.1 622.5 1811.6 624.1 1812C625.7 1812.4 631.1 1812.1 632.2 1813C633.9 1814.4 637.6 1820.9 638.3 1823.2C639.5 1827 641.1 1839.3 641.3 1843.4C641.5 1845.4 641.1 1851.7 640.3 1853.5C639.1 1856.6 633.1 1867.5 631.2 1867.7C629.5 1867.9 623.3 1858.2 622.1 1855.5C620.9 1853 620 1844.1 619.1 1841.4C618 1838 613.6 1828.3 612 1825.2C610.9 1823.1 606.8 1817.2 605.9 1815.1C605.6 1814.3 605.3 1811.4 605.9 1811Z" fill="#FFAAAA" stroke="#000" stroke-width="3.4"/>
<path d="M670 1876C670.7 1873.2 681 1866.4 684 1866C687 1865.6 697.9 1869.6 700 1872C703.9 1876.4 714 1894.5 714 1900C714 1904.9 703.9 1920.9 700 1924C697.5 1926.1 683.9 1927.9 682 1926C679.1 1923.1 677.2 1905.2 676 1900C674.8 1895.2 669.1 1880 670 1876Z" fill="#FFAAAA" stroke="#000" stroke-width="3.4"/>
<path d="M658 1950C658.9 1945.8 670 1934.2 674 1932C678 1929.8 694.3 1926.6 698 1928C700.7 1929 705.8 1940.6 706 1944C706.2 1949.4 702.6 1967.3 700 1972C698.2 1975.3 687.5 1983.4 684 1984C680.3 1984.6 666.2 1980.9 664 1978C661 1974.1 656.9 1955 658 1950Z" fill="#FFAAAA" stroke="#000" stroke-width="3.4"/>
<path d="M589.1 2000.5C589.3 1999.1 592 1994.4 593.2 1993.9C594.6 1993.4 600.5 1994.8 602.2 1995.5C604.3 1996.5 611.1 2000.6 612 2002.1C612.4 2002.9 609.6 2006.3 608.7 2007C606.7 2008.6 599.4 2013.6 597.3 2013.6C595.8 2013.6 591.6 2008.5 590.7 2007C590 2005.9 588.8 2001.7 589.1 2000.5Z" fill="#FFAAAA" stroke="#000" stroke-width="3.4"/>
<path d="M561.4 1741.2C564.3 1741.2 577.9 1749.6 579.6 1752.3C581.6 1755.5 585 1773.2 583.6 1776.6C581.8 1781 564.1 1799 560.4 1798.9C556.7 1798.8 540.3 1779.9 539.1 1775.6C538.1 1772.2 545.1 1755.6 547.2 1752.3C548.8 1749.9 558.9 1741.2 561.4 1741.2Z" fill="#FFD7D7" stroke="#000" stroke-width="3.4"/>
<path d="M404.5 1849.5C406.3 1846.3 420.1 1840 423.7 1840.4C427.2 1840.8 436.4 1851.3 439.9 1853.5C443.3 1855.6 455 1859.3 458.1 1861.6C461.1 1863.8 469.3 1872.5 470.3 1875.8C471.5 1879.8 470.7 1894.1 469.3 1898.1C468.2 1901 460.8 1909.6 458.1 1910.2C455.3 1910.8 445.1 1905.5 441.9 1904.1C437.4 1902.2 423.5 1896.8 419.7 1894C415.8 1891.2 404.9 1880.1 403.5 1875.8C401.9 1871.2 402.3 1853.4 404.5 1849.5Z" fill="#FFD7D7" stroke="#000" stroke-width="3.4"/>
<path d="M355.6 2025C355.6 2022.5 359.6 2014.1 361.3 2011.9C362.7 2010.1 369.1 2006.6 371.1 2005.4C373 2004.3 379.3 2001.8 381 2000.5C382.9 1998.9 387.4 1992.5 389.2 1990.6C390.7 1988.9 395.5 1983.8 397.3 1982.4C399 1981.2 404.4 1977.7 406.4 1977.5C408.7 1977.2 416.2 1979.3 418.6 1980C421.3 1980.7 429.8 1982.5 431.8 1984.1C433.7 1985.6 437.7 1993.2 438.3 1995.5C438.6 1996.8 437.4 2001 436.7 2002.1C435.6 2003.9 430.9 2008.7 429.3 2010.3C427.6 2012 421.8 2016.6 420.3 2018.5C419.2 2019.9 417.4 2025.3 416.2 2026.7C414.4 2028.6 407.8 2033.5 405.5 2034.9C402.4 2036.8 392.6 2042.4 389.2 2043.1C385.6 2043.7 373.7 2042.6 370.3 2041.4C368.1 2040.7 362.9 2035 361.3 2033.2C360 2031.8 355.6 2026.8 355.6 2025Z" fill="#FFD7D7" stroke="#000" stroke-width="3.4"/>
<path d="M475.2 1962C476.9 1961.9 484 1967.7 485 1969.3C486.2 1971.4 488.6 1981.7 488.3 1984.1C487.8 1987.6 482.2 2002.1 480.1 2004.6C479.1 2005.8 471.2 2006.4 469.4 2006.2C467.9 2006 461.1 2003.4 460.4 2002.1C459 1999.4 456.5 1985.6 456.7 1982.4C456.8 1980.3 460.6 1971.7 462.1 1970.1C463.7 1968.3 473 1962 475.2 1962Z" fill="#FFD7D7" stroke="#000" stroke-width="3.4"/>
<path d="M505.5 2000.5C505.6 1999.5 510.1 1995.5 511.2 1995.5C514.7 1995.5 531.4 1998.9 533.3 2000.5C534.2 2001.2 529.8 2008.9 528.4 2009.5C526 2010.4 512.8 2010.4 510.4 2009.5C509 2008.9 505.4 2001.8 505.5 2000.5Z" fill="#FFD7D7" stroke="#000" stroke-width="3.4"/>
<path d="M475.3 2195.5C477.2 2194.9 488.3 2205.4 490.5 2207.7C491.6 2208.8 495.7 2214.3 495.6 2215.8C495.4 2219.1 490.6 2234 488.5 2236C487.1 2237.4 475.8 2237.4 474.3 2236C472.1 2234 466.2 2219.1 466.2 2215.8C466.3 2212.4 473.2 2196.3 475.3 2195.5Z" fill="#FFD7D7" stroke="#000" stroke-width="3.4"/>
<path d="M369.1 1902.1C370.7 1899.4 385.9 1892.7 389.3 1893C391.3 1893.1 395.9 1901.7 396.4 1904.1C397.1 1907.9 396.5 1920.7 395.4 1924.3C394.7 1926.3 388.8 1933 387.3 1932.4C384.7 1931.4 377.2 1919.6 375.1 1916.2C373.6 1913.6 367.9 1904 369.1 1902.1Z" fill="#FF5555" stroke="#000" stroke-width="3.4"/>
<path d="M831.7 1823.2C832.5 1822.7 853.4 1827.5 854 1828.2C854.3 1828.7 841.9 1836 840.8 1835.7C839.7 1835.5 831.2 1823.5 831.7 1823.2Z" fill="#FF5555" stroke="#000" stroke-width="3.4"/>
<path d="M577.6 1900.1C578.3 1898.3 582 1893.1 583.6 1892C585.7 1890.6 593.9 1887 595.8 1887.9C598.8 1889.4 605 1901.5 607.9 1904.1C610.6 1906.6 620.9 1911.4 624.1 1913.2C625.8 1914.2 630.7 1917.2 632.2 1918.2C634.5 1919.8 642.6 1924.1 643.4 1926.3C644.2 1928.6 640.7 1937.6 640.3 1940.5C639.9 1944.5 639.8 1956.7 639.3 1960.7C638.8 1964.4 637.4 1976.8 635.3 1978.9C633.5 1980.7 622.8 1980.8 620.1 1980C617.4 1979.2 610.2 1972.8 607.9 1970.9C605.4 1968.6 598.1 1961.2 595.8 1958.7C593.3 1956 585.7 1947.6 583.6 1944.5C581.7 1941.5 576.4 1931.8 575.5 1928.3C574.8 1925.3 575.3 1915.4 575.5 1912.1C575.7 1909.7 576.7 1902.3 577.6 1900.1Z" fill="#FF0000" stroke="#000" stroke-width="3.4"/>
<path d="M552.3 2120.6C552.3 2118.3 560.8 2110.4 563.4 2108.5C566.2 2106.5 576.2 2102.1 579.6 2101.4C582.7 2100.8 592.6 2102.5 595.8 2102.4C599 2102.3 608.9 2101.3 612 2100.4C615.4 2099.5 624.9 2094.7 628.2 2093.3C632 2091.7 643.5 2086.2 647.4 2085.2C649.1 2084.8 655.1 2085.3 656.5 2086.2C658.4 2087.5 663.8 2094.4 663.6 2096.4C663.4 2098.5 655.8 2104.2 654.5 2106.5C652.8 2109.4 650.1 2119.7 648.4 2122.7C646.9 2125.4 640.7 2132.9 638.3 2134.8C635.9 2136.7 626.9 2140.4 624.1 2141.9C622.1 2143 616 2148.4 614 2148C610.7 2147.3 601.4 2138.1 597.8 2136.8C594.1 2135.5 581.6 2135.5 577.6 2134.8C574.7 2134.3 565.9 2132.2 563.4 2130.8C560.8 2129.3 552.3 2122.8 552.3 2120.6Z" fill="#FF0000" stroke="#000" stroke-width="3.4"/>
<path d="M545.2 2228.3C547.2 2225.7 559.7 2222.7 563.4 2221.9C567.3 2221 579.6 2220.3 583.6 2219.8C587.7 2219.3 600 2218 603.9 2216.8C606.5 2216 613.6 2211 616 2209.7C618.8 2208.2 627.2 2203.1 630.2 2202.6C634.9 2201.9 650.1 2202.2 654.5 2203.6C657.8 2204.8 665.9 2213.3 668.7 2215.8C671.5 2218.3 681.3 2225.2 682.8 2228.3C684.5 2231.7 688.3 2247.7 684.9 2248.2C660.4 2251.7 567.6 2251.7 543.2 2248.2C539.7 2247.7 543.1 2231 545.2 2228.3Z" fill="#FF0000" stroke="#000" stroke-width="3.4"/>
<path d="M751.7 1959.7C755.4 1959.3 767.1 1962.3 771 1962.8C775 1963.3 787.2 1964.6 791.2 1964.8C794.4 1964.9 804.2 1964.9 807.4 1964.4C811.5 1963.7 823.5 1959.4 827.7 1958.7C832.4 1957.9 847.1 1957.1 851.9 1957.3C856 1957.5 868.3 1959.6 872.2 1960.7C875.6 1961.7 885.4 1966 888.4 1967.8C891.9 1970 902.9 1977.4 904.6 1981C907.8 1988.1 912.9 2013.4 912.7 2021.5C912.5 2029.6 907.6 2056.1 902.6 2061.9C895.4 2070.2 861.5 2085.5 851.9 2092.3C847.3 2095.6 835.3 2108.2 831.7 2112.6C829.6 2115 824.9 2123.8 823.6 2126.7C822.9 2128.4 822.9 2134.8 821.6 2135.8C818.8 2138 806.8 2141.2 803.4 2142.9C801.6 2143.8 796.7 2147.6 795.3 2149C794 2150.2 791.7 2155.7 790.2 2156.1C786.9 2157 774.8 2155.6 771 2155.5C766.9 2155.3 754.8 2154.7 750.7 2154.7C746.1 2154.6 731.6 2155.9 727.4 2154.7C724.9 2153.9 718.2 2147.4 717.3 2144.9C716 2141 717.1 2127 716.3 2122.7C715.5 2117.7 710.5 2103.3 709.2 2098.4C708.4 2095.2 707.1 2085.3 706.2 2082.2C705.3 2078.9 701.5 2069.2 700.1 2066C699.1 2063.5 694.6 2056.5 694 2053.8C693.1 2049.2 692.8 2034.4 693 2029.6C693.4 2023.9 694.4 2005.1 697.1 2001.2C698.7 1998.8 711.5 1999.5 714.3 1998.2C715.3 1997.7 715.6 1993.2 716.3 1992.1C718.1 1989.3 724.2 1981.4 726.4 1978.9C728.7 1976.4 735.9 1968.9 738.6 1966.8C740.9 1965 748.9 1960.1 751.7 1959.7Z" fill="#FF0000" stroke="#000" stroke-width="3.4"/>
<path d="M1648 2247.9C1644.5 2247.5 1647.8 2232.3 1647.7 2228.4C1647.6 2220.8 1647 2197.8 1647 2190.1C1647 2184.3 1647.3 2167 1647.7 2161.2C1647.9 2158 1648.8 2148.3 1649.9 2145.3C1650.9 2142.5 1655.9 2134.6 1657.8 2132.3C1659.5 2130.3 1665.7 2125 1667.9 2123.6C1670.3 2122.2 1678.3 2119.3 1681 2118.6C1683.8 2117.8 1692.5 2116.4 1695.4 2116.4C1698.9 2116.3 1709.3 2117.3 1712.8 2117.8C1716.3 2118.4 1726.7 2121.2 1730.1 2122.2C1733.6 2123.2 1744.1 2126.6 1747.5 2127.9C1750.4 2129.2 1759.3 2133.4 1761.9 2135.2C1764.5 2136.9 1771.5 2143 1773.5 2145.3C1775.5 2147.6 1780.4 2155.7 1782.2 2158.3C1784.4 2161.5 1791.4 2171 1793.7 2174.2C1796 2177.4 1803.2 2186.8 1805.3 2190.1C1806.7 2192.3 1810.1 2199.3 1811.1 2201.7C1812.2 2204.5 1815.1 2213.2 1815.4 2216.1C1816 2222.4 1821 2246.9 1815.7 2247.9C1787.6 2253.3 1678.1 2251.4 1648 2247.9Z" fill="#FF0000" stroke="#000" stroke-width="3.4"/>
<path d="M1683.9 2247.9C1681 2246.7 1682.1 2232.1 1681 2228.4C1680.1 2225.8 1674.7 2218.8 1673.7 2216.1C1672.4 2212.6 1669.9 2201.1 1669.4 2197.3C1668.8 2193.1 1667.8 2180 1667.9 2175.7C1668.1 2172.7 1670.1 2164 1670.8 2161.2C1671.5 2158.6 1673.9 2150.5 1675.2 2148.2C1675.9 2146.8 1679.6 2143.2 1681 2142.4C1683 2141.2 1690.2 2138.8 1692.5 2138.1C1694.8 2137.4 1701.8 2135.3 1704.1 2135.2C1706.1 2135 1712.2 2136.6 1714.2 2136.6C1716.2 2136.7 1722.4 2135.6 1724.3 2135.9C1726.7 2136.2 1733.7 2138.6 1735.9 2139.5C1738.3 2140.5 1745.3 2143.8 1747.5 2145.3C1750 2147 1756.9 2153.2 1759 2155.4C1761 2157.5 1766.2 2164.5 1767.7 2167C1769.4 2169.7 1773.4 2178.6 1774.9 2181.4C1776.3 2184.1 1780.8 2191.8 1782.2 2194.5C1783.7 2197.6 1787.8 2207.2 1789.4 2210.4C1789.9 2211.3 1792.6 2214 1792.3 2214.7C1791.7 2215.8 1786.7 2218.9 1785.1 2219C1781.5 2219.3 1770 2216.7 1766.3 2216.9C1763.3 2217 1754.7 2219.6 1751.8 2220.5C1749.2 2221.2 1741.4 2223.9 1738.8 2224.8C1737 2225.5 1730.9 2226.9 1730.1 2228.4C1728.5 2231.6 1730.1 2246.7 1727.2 2247.9C1720.9 2250.6 1690.2 2250.6 1683.9 2247.9Z" fill="#CC0000" stroke="#000" stroke-width="3.4"/>
<path d="M1944 2248C1938.6 2245.8 1957.7 2216.2 1960 2208C1961.7 2201.8 1962.7 2182.3 1964 2176C1965.1 2171.1 1969.3 2156 1972 2152C1974.1 2148.8 1984.4 2141.3 1988 2140C1991.6 2138.7 2004.2 2138.4 2008 2139.2C2012.2 2140 2024.5 2145.6 2028 2148C2031.7 2150.5 2041.2 2160.5 2044 2164C2046.8 2167.7 2053 2180.6 2056 2184C2058.6 2187 2070.4 2192.8 2072 2196C2073.6 2199.2 2072.9 2212.2 2072 2216C2070.5 2222.6 2065.8 2246.5 2060 2248C2040.2 2252.9 1958.6 2253.8 1944 2248Z" fill="#FFD7D7" stroke="#000" stroke-width="3.4"/>
<path d="M2078 2248C2072.3 2244.1 2076 2208.7 2078 2200C2078.8 2196.7 2089 2190.1 2092 2188C2095.8 2185.3 2107.6 2177.3 2112 2176C2118.8 2174.1 2145.7 2167.4 2148 2172C2152.9 2181.8 2155.3 2240.1 2148 2248C2141.3 2255.3 2086.3 2253.7 2078 2248Z" fill="#FFD7D7" stroke="#000" stroke-width="3.4"/>
<path d="M2088 1996C2088.8 1994.1 2094 1988.8 2096 1988C2101.2 1986 2118.9 1980.8 2124 1982C2129.3 1983.2 2149.1 1996 2148 2000C2145.9 2007.6 2116.1 2035.8 2108 2040C2105.3 2041.4 2095.9 2031 2094 2028C2091.9 2024.6 2088.8 2012.1 2088 2008C2087.6 2005.7 2087.2 1998.1 2088 1996Z" fill="#FFD7D7" stroke="#000" stroke-width="3.4"/>
<ellipse cx="526" cy="1926.3" rx="3.6" ry="3.2" fill="#000"/>
<ellipse cx="375.1" cy="2025.1" rx="6" ry="3.4" fill="#000"/>
<ellipse cx="681.8" cy="1951.6" rx="2.6" ry="2.4" fill="#000"/>
<ellipse cx="665.6" cy="2169.2" rx="4" ry="3.4" fill="#000"/>
<path d="M270 300 L852 302 L852 318 L848 334 L840 348 L820 350 L808 344 L804 366 L792 366 L786 352 L778 358 L780 394 L768 402 L740 398 L704 396 L684 384 L664 382 L640 372.7 L630.1 376.1 L625 372.7 L618.2 368.5 L619.1 381.2 L614.8 381.2 L609.7 376.1 L603.8 370.2 L602.9 384.6 L597.8 391.4 L591 389.7 L579.1 385.5 L570.6 388 L563 388 L557 381.2 L554.5 382.9 L554.5 389.7 L550.2 396.5 L534.9 395.7 L528.1 394 L524.7 395.7 L523 401.6 L516.2 410.1 L512.8 411 L506 405 L503.4 406.7 L502.6 419.5 L491.5 420.3 L494.1 428.8 L497.5 440.7 L504.3 452.7 L509.4 466.3 L512.8 479.9 L514.5 496.9 L511.1 512.2 L507.7 524.1 L504.3 536 L505.1 546.2 L507.7 557.2 L517.9 554.7 L522.1 546.2 L523.8 539.4 L528.1 537.7 L534.9 541.1 L539.1 546.2 L540 551.3 L535.7 555.5 L538.3 564.9 L540 576.8 L537.4 587 L534.9 592.1 L526.4 598.1 L524.7 605.7 L522.1 620 L522 614 L526 630 L528 658 L530 684 L520 698 L504 712 L488 720 L472 720 L456 710 L448 698 L444.8 682 L434 704 L420 722 L396 746 L372 764 L344 814 L324 858 L310 890 L308 902 L314 930 L310 942 L310 970 L296 976 L294.4 976 L270 976Z" fill="#FFFFFF" stroke="none" stroke-width="0"/>
<path d="M986 318 L990 332 L1000 334.8 L1018 334.8 L1024.8 318Z" fill="#FFFFFF" stroke="#000" stroke-width="1.6"/>
<path d="M768.9 2244.1 L768.9 2232 L770 2223.9 L773 2212.8 L780.1 2203.6 L782.1 2195.5 L787.2 2190.5 L799.3 2188.5 L807.4 2192.5 L811.5 2191.5 L818.5 2180.4 L816.5 2171.3 L817.5 2151 L821.6 2135.8 L821.6 2126.7 L819.6 2112.6 L821.6 2102.4 L831.7 2092.3 L837.8 2082.2 L841.8 2076.1 L837.8 2078.1 L829.7 2083.2 L829.7 2072.1 L831.7 2065 L840.8 2059.9 L842.8 2053.8 L837.8 2047.8 L839.8 2041.7 L845.9 2037.7 L851.9 2039.7 L848.9 2044.7 L849.9 2052.8 L860 2056.9 L876.2 2056.9 L887.4 2053.8 L889.4 2049.8 L891.4 2031.6 L890.4 2017.4 L896.5 2015.4 L898.5 2001.2 L896.5 1992.1 L889.4 1990.1 L887.4 1983 L888.4 1967.8 L889.4 1957.7 L892.4 1959.7 L894.5 1971.9 L899.5 1975.9 L904.6 1971.9 L900.5 1966.8 L912.7 1955.7 L918.7 1958.7 L930.9 1952.6 L943 1940.5 L953.2 1926.3 L959.2 1914.2 L964.9 1905.2 L969 1897 L969.9 1890.4 L974.8 1884.7 L984.7 1879.7 L1001.1 1878.1 L1012.6 1877.3 L1016.7 1874.8 L1020.8 1865.8 L1024.1 1860 L1021.7 1869.1 L1022.5 1877.3 L1027.4 1875.6 L1032.3 1877.3 L1042.2 1877.3 L1046.3 1874.8 L1045.5 1865.8 L1043 1859.2 L1045.5 1854.3 L1047.1 1847.7 L1042.2 1839.5 L1040.6 1834.5 L1043.9 1824.7 L1038.9 1818.9 L1033.2 1815.6 L1035.6 1814 L1042.2 1821.4 L1047.1 1831.2 L1052.1 1841.1 L1052.9 1849.3 L1049.6 1855.9 L1048 1862.5 L1050.4 1872.3 L1057 1878.9 L1062.8 1882.2 L1068.5 1879.7 L1073.4 1883.9 L1080 1883 L1089.9 1877.3 L1096.5 1874.8 L1095.6 1878.1 L1085 1883.9 L1080.8 1888 L1080.8 1891.3 L1076.7 1893.7 L1070.2 1892.1 L1060.3 1888.8 L1038.9 1884.7 L1038.9 1888.8 L1052.1 1893.7 L1056.2 1898.7 L1053.7 1902.8 L1048.8 1905.2 L1042.2 1905.2 L1036.5 1908.5 L1038.9 1911.8 L1045.5 1911 L1058.7 1916.7 L1068.5 1921.7 L1070.2 1927.4 L1080 1930.7 L1088.2 1931.5 L1096.5 1929.1 L1108 1926.6 L1117.8 1927.4 L1129.4 1925.8 L1134.3 1923.3 L1142.5 1925.8 L1147.4 1929.9 L1150.7 1934.8 L1154.8 1934 L1156.5 1928.2 L1163.1 1924.1 L1163.9 1938.1 L1168 1943 L1173.7 1946.3 L1165.5 1949.6 L1154 1953.7 L1145.8 1961.1 L1134.3 1964.4 L1126.1 1967.7 L1114.6 1972.6 L1103 1982.5 L1091.5 1990.7 L1085.8 1998.1 L1086.6 2004.7 L1096.5 2006.3 L1099.8 2003.1 L1111.3 2002.2 L1121.1 2007.2 L1131 2017 L1139.2 2022 L1147.4 2019.5 L1158.9 2027.7 L1162.2 2036.8 L1164.7 2049.9 L1158.1 2053.2 L1157.3 2063.1 L1159.8 2074.6 L1147.4 2077.9 L1150.7 2084.4 L1163.9 2090 L1168 2096 L1190 2096 L1210 2086 L1222 2068 L1242 2058 L1264 2056 L1282 2040 L1298 2026 L1314 2030 L1326 2038 L1346 2036 L1358 2032 L1356 2020 L1357.2 2004.8 L1366 1995.2 L1380 2000 L1393.2 2003.2 L1394.8 2010 L1385.2 2014 L1370.8 2016.8 L1370 2026 L1378 2026 L1394 2028 L1410 2038 L1418 2052 L1434 2070 L1450 2072 L1454 2066 L1466 2076 L1476 2092 L1490 2098 L1506 2102 L1522 2112 L1546 2132 L1570 2156 L1586 2172 L1602 2188 L1618 2200 L1630 2214 L1650 2220 L1666 2228 L1668 2264Z" fill="#FFFFFF" stroke="#000" stroke-width="1.6"/>
<path d="M1024.1 1884.7 L1032.3 1883.9 L1036.5 1886.3 L1034.8 1890.4 L1029.1 1891.3Z" fill="#FF5555" stroke="#000" stroke-width="1.6"/>
<path d="M1234.6 1929.9 L1237.9 1921.7 L1246.1 1920.8 L1256 1918.4 L1262.5 1913.4 L1267.5 1906.9 L1270.8 1900.3 L1272.4 1895.4 L1277.3 1898.7 L1283.1 1902.8 L1288.8 1897 L1300 1887.1 L1324 1874 L1346 1876 L1378 1863.2 L1418 1848 L1434 1832 L1474 1828.8 L1502 1827.2 L1522 1820 L1538 1812 L1554 1814 L1554 1836 L1534 1840 L1514 1852 L1498 1854 L1490 1862 L1506 1866 L1504 1874 L1492 1874 L1486 1868 L1474 1874 L1466 1880 L1452 1876 L1456 1892 L1464 1904 L1472 1900 L1484 1914 L1494 1924 L1504 1930 L1502 1936 L1494 1936 L1480 1926 L1474 1944 L1470 1944 L1468 1932 L1458 1944 L1454 1960 L1442 1974 L1446 1994 L1446 2006 L1434 2002 L1416 2008 L1414 2012 L1406 2012 L1402 2004 L1394 2000 L1386 1996 L1378 2002 L1370 2004 L1366 1996 L1346 1992 L1334 1994 L1322 2000 L1306 2002 L1290 2008 L1282 2008 L1282.3 2008.8 L1272.4 2005.5 L1267.5 2004.7 L1262.5 1998.9 L1260.9 1995.7 L1265 1992.4 L1264.2 1979.2 L1256 1971 L1246.1 1966.1 L1236.2 1959.5 L1223.1 1962 L1229.6 1956.2 L1233.8 1948 L1232.9 1944.7 L1229.6 1940.6 L1230.5 1934.8Z" fill="#FFFFFF" stroke="#000" stroke-width="1.6"/>
<path d="M1237.9 1929.9 L1242.8 1929.1 L1246.9 1931.5 L1250.2 1939.8 L1254.3 1952.9 L1260.9 1967.7 L1267.5 1980.9 L1282.3 2008.8 L1279 2008 L1264.2 1980.9 L1256 1964.4 L1249.4 1948 L1244.4 1936.5 L1239.5 1933.2Z" fill="#FF5555" stroke="#000" stroke-width="1.0"/>
<path d="M1258.4 1930.7 L1265.8 1925.8 L1270.8 1924.1 L1269.9 1926.6 L1260.9 1931.5Z" fill="#FF5555" stroke="#000" stroke-width="1.0"/>
<path d="M1168 1917.6 L1175.4 1915.1 L1183.6 1916.7 L1188.5 1920 L1193.5 1926.6 L1198.4 1926.6 L1199.2 1918.4 L1201.7 1911.8 L1206.6 1916.7 L1213.2 1921.7 L1221.4 1924.1 L1228.8 1921.7 L1229.6 1928.2 L1221.4 1929.9 L1219.8 1936.5 L1223.1 1939.8 L1229.6 1940.6 L1232.9 1944.7 L1228 1947.2 L1224.7 1950.4 L1215.7 1950.4 L1219 1944.7 L1217.3 1940.6 L1209.9 1936.5 L1203.3 1936.5 L1202.5 1944.7 L1199.2 1944.7 L1197.6 1938.1 L1190.2 1931.5 L1187.7 1936.5 L1183.6 1934.8 L1180.3 1925 L1175.4 1925.8 L1172.1 1922.5Z" fill="#FFFFFF" stroke="#000" stroke-width="1.6"/>
<path d="M1490 1868 L1506 1866 L1505.2 1874 L1492 1874.4Z" fill="#FFFFFF" stroke="#000" stroke-width="1.6"/>
<path d="M2148.8 1966 L2172 1964 L2184 1952 L2196 1944 L2202 1954 L2206 1954 L2204 1940 L2199.2 1932 L2204 1926 L2212 1928 L2232 1916 L2242 1912 L2239.2 1902 L2248 1898 L2250 1886 L2260 1886 L2282 1882 L2298 1868 L2312 1858 L2326 1850 L2342 1844.8 L2354 1834 L2374 1828 L2404 1834 L2410 1844 L2436 1856 L2448 1858 L2462 1840 L2470 1844 L2492 1844 L2506 1852 L2512 1868 L2508 1880 L2500 1886 L2504 1894 L2508.8 1888 L2510 1912 L2506 1940 L2498 1956 L2482 1976 L2482 1986 L2516 2002 L2512 2006 L2492 2002 L2464 1996 L2440 1998 L2416 1996 L2400 2003.2 L2390 2001.2 L2380 2016 L2378 2028 L2358 2040 L2360 2050 L2376 2062 L2380 2072 L2392 2076 L2400 2082 L2366 2086 L2360 2084 L2358 2104 L2352 2118 L2354 2132 L2364 2156 L2380 2180 L2384 2200 L2380 2212 L2404 2210 L2416 2228 L2418 2264 L2118 2264 L2118 2228 L2120 2200 L2126 2194 L2120 2182 L2112 2178 L2118 2156 L2108 2128 L2088 2100 L2068 2096 L2064 2080 L2072 2066 L2090 2056 L2100 2032 L2116 2000 L2126 1984 L2130 1982 L2124 1964 L2130 1962 L2142 1972Z" fill="#FFFFFF" stroke="#000" stroke-width="1.6"/>
<path d="M2724 1246C2720.5 1245.2 2709.9 1243 2706.4 1242C2701.9 1240.6 2688.1 1236.3 2684 1234C2680.4 1231.9 2670.9 1223.1 2668 1220C2664.5 1216.3 2655.4 1203.8 2652 1200C2647.4 1195 2633.4 1179.8 2628 1176C2625 1173.8 2613.6 1170 2610 1170C2605.6 1170 2592.1 1174.1 2588 1176C2583.7 1178.1 2571.5 1186.7 2568 1190C2563.9 1193.9 2552.2 1207 2550 1212C2547.8 1217 2546.6 1234.4 2546 1240C2545.4 1245.6 2545.3 1262.6 2544 1268C2542.5 1273.8 2535.6 1291.3 2532 1296C2528.4 1300.9 2512.7 1311.9 2508 1316C2501.5 1321.5 2482.4 1338.4 2476 1344C2469.6 1349.6 2449.7 1365.7 2444 1372C2438.5 1378.1 2426.1 1400.7 2420 1406C2413.3 1411.9 2388.1 1423.8 2380 1428C2371.3 1432.6 2343.9 1444.5 2336 1450C2332.3 1452.5 2324.1 1464 2322 1468C2320.1 1471.6 2316.2 1483.9 2316 1488C2315.8 1494.3 2318.7 1513.7 2320 1520C2321.1 1525.7 2326.6 1542.4 2328 1548C2328.6 1550.4 2330 1557.6 2330 1560C2330 1564.8 2328.9 1579.3 2328 1584C2326.5 1591.3 2318.6 1612.7 2318 1620C2317.4 1626.3 2322.2 1645.6 2322 1652C2321.8 1659.2 2317.1 1680.8 2316 1688C2315.1 1694.4 2312.5 1713.6 2312 1720C2311.3 1728 2310 1752 2310 1760C2310 1766.4 2311.2 1785.7 2312 1792C2312.8 1797.7 2316.7 1814.4 2318 1820C2319.5 1826 2324.4 1844 2326 1850" fill="none" stroke="#000" stroke-width="5.4"/>
<path d="M2338.7 2074.7C2338.2 2078.4 2337.2 2089.6 2336 2093C2335.1 2095.6 2329.6 2102.4 2328 2104.7" fill="none" stroke="#000" stroke-width="5.4"/>
<path d="M2358 2076C2358.3 2081 2360 2096.1 2359.5 2101C2359 2105.3 2354.3 2117.8 2353 2122" fill="none" stroke="#000" stroke-width="3.4"/>
<path d="M2705.7 2035 L2705.7 2229" fill="none" stroke="#000" stroke-width="2.2"/>
<g fill="none" stroke="#000">
<path d="M852 318 L848 334 L840 348 L820 350 L808 344 L804 366 L792 366 L786 352 L778 358 L780 394 L768 402 L740 398 L704 396 L684 384 L664 382 L640 372.7 L630.1 376.1 L625 372.7 L618.2 368.5 L619.1 381.2 L614.8 381.2 L609.7 376.1 L603.8 370.2 L602.9 384.6 L597.8 391.4 L591 389.7 L579.1 385.5 L570.6 388 L563 388 L557 381.2 L554.5 382.9 L554.5 389.7 L550.2 396.5 L534.9 395.7 L528.1 394 L524.7 395.7 L523 401.6 L516.2 410.1 L512.8 411 L506 405 L503.4 406.7 L502.6 419.5 L491.5 420.3" stroke-width="1.6"/>
<path d="M491.5 420.3C492 422 493.6 427.1 494.1 428.8C494.8 431.2 496.5 438.5 497.5 440.7C498.6 443.3 503.1 450.2 504.3 452.7C505.5 455.3 508.5 463.5 509.4 466.3C510.2 468.9 512.3 477.1 512.8 479.9C513.3 483.2 514.7 493.5 514.5 496.9C514.3 500 511.8 509.1 511.1 512.2C510.5 514.6 508.4 521.7 507.7 524.1C507 526.5 504.6 533.6 504.3 536C504.1 538 504.8 544.2 505.1 546.2C505.5 548.4 507.2 555 507.7 557.2" stroke-width="3.4"/>
<path d="M507.7 557.2 L517.9 554.7 L522.1 546.2 L523.8 539.4 L528.1 537.7 L534.9 541.1 L539.1 546.2 L540 551.3 L535.7 555.5 L538.3 564.9 L540 576.8 L537.4 587 L534.9 592.1 L526.4 598.1 L524.7 605.7 L522.1 620 L522 614 L526 630 L528 658 L530 684 L520 698 L504 712 L488 720 L472 720 L456 710 L448 698 L444.8 682" stroke-width="1.6"/>
<path d="M444.8 682C442.6 686.4 436.6 699.9 434 704C431.6 707.9 423.1 718.6 420 722C415.5 727 401.1 741.5 396 746C391.5 749.9 375.6 759.3 372 764C365.2 772.9 349.2 803.8 344 814C339.6 822.6 327.9 849.2 324 858C321.1 864.4 312.8 883.6 310 890" stroke-width="3.4"/>
<path d="M310 890 L308 902 L314 930 L310 942 L310 970 L296 976 L294.4 976" stroke-width="1.6"/>
<path d="M491.5 420.3 L489 419.5 L483 421.2 L482.2 426.3 L477.1 426.3 L467.7 427.1 L464.3 429.7 L465.2 452.7 L462.6 452.7 L460.9 457.8 L463.5 461.2 L470.3 459.5 L474.5 456.1 L472 452.7 L475.4 454.4 L476.2 461.2 L470.3 464.6 L461.8 466.3 L461.8 473.1 L465.2 483.3 L471.1 485 L480.5 484.6 L488.1 484.1 L492.4 488.4 L482.2 490.9 L468.6 493.5 L466 498.6 L467.7 503.7 L467.7 513.9 L470.3 518.1 L475.4 521.5 L478.8 532.6 L483 541.9 L489.8 543.6 L497.5 547.9 L503.4 552.1 L507.7 557.2" stroke-width="1.8"/>
<path d="M465.2 430.5 L465.2 452.7 L462.1 456.1 L463.5 460.8" stroke-width="3.5"/>
<path d="M462.1 466.6 L462.6 473.9 L466 482.9" stroke-width="3.5"/>
<path d="M366.5 464.6 L388.6 464.6 L396.3 460.3 L403.1 448.4 L410.7 451 L412.4 456.9 L422.7 456.9 L428.6 462.9 L432.9 473.1 L435.1 480.7 L424.4 479.9 L423.5 487.5 L417.6 487.5 L419.3 481.6 L415 484.1 L411.6 490.1 L409 496.9 L407.3 498.6 L397.1 498.6 L395.4 483.3 L392 474.8 L387.8 471.4 L378.4 473.1 L366.5 468Z" stroke-width="1.8"/>
<path d="M440.5 454.4 L443.1 451.8 L457.5 453.5 L459.2 461.2 L443.1 462.9Z" stroke-width="1.8"/>
<path d="M352.9 523.2 L364.8 522.4 L372.5 525.8 L380.1 516.4 L397.1 511.3 L415.9 510.5 L419.3 507.9 L426.1 507.9 L436.3 513.9 L444.8 519 L453.3 525.8 L455 531.7 L449 532.6 L443.1 530.9 L438 534.3 L436.3 540.2 L426.1 547.9 L415 558.1 L400.5 558.1 L390.3 559.8 L382.7 566.6 L381.8 576.8 L377.6 591.3 L367.4 600.6 L363.1 600.6 L363.1 592.1 L368.2 580.2 L375 576.8 L376.7 570 L369.1 567.4 L358 558.1 L353.8 552.1 L354.6 546.2 L364 543.6 L363.1 538.5 L358 530.9Z" stroke-width="1.8"/>
<path d="M436.3 509.6 L445.6 499.4 L455 504.5 L460.1 517.3 L458.4 519 L448.2 519Z" stroke-width="1.8"/>
<path d="M418.4 326.8 L437.1 327.7 L436.3 335.6 L424.4 336.2Z" stroke-width="1.6"/>
<path d="M439.7 327.7 L449 323.7 L452.4 325.1 L449.9 331.1 L440.5 331.9Z" stroke-width="1.6"/>
<path d="M426.1 348.1 L431.2 343 L443.9 337 L450.7 327.7 L454.1 323.4 L459.2 323.4 L453.3 336.2 L449.9 343.8 L445.6 347.2Z" stroke-width="1.6"/>
<path d="M457.5 335.3 L461.8 330.2 L467.7 326.8 L482.2 330.2 L481.3 332.8 L470.3 331.9 L458.4 335.6Z" stroke-width="1.6"/>
<path d="M482.2 328.5 L502.6 322.6" stroke-width="1.6"/>
<path d="M296 786 L298 770 L296 750 L300 730 L324 706 L322.8 670 L332 658 L348 642 L376 632 L404 622 L406 636 L420 654 L444 672 L444.8 682" stroke-width="1.6"/>
<path d="M340 654.8 L352 672 L336.8 686 L324.8 678.8" stroke-width="3.5"/>
<path d="M298 832 L296 850 L298 870 L304 880 L300 910 L294.4 926" stroke-width="1.4"/>
<path d="M2360 2084 L2352 2072 L2312 2071.2 L2308 2084 L2308.8 2098 L2324 2106 L2340 2108 L2352 2118" stroke-width="1.4"/>
<path d="M2112.8 1964 L2119.2 1974 L2124 1983.2" stroke-width="1.4"/>
<path d="M780 394 L788 404 L788 416 L772 420 L764 442 L756 458 L740 474 L738 486 L742 514 L746 530 L744 546 L740 558 L744 570 L754 582 L758 598 L764 606 L760 610.8 L746 614 L736 630 L733.2 648" stroke-width="1.4"/>
<path d="M524 604 L540 594.8 L560 590 L578 580 L584 589.2 L588 589.2 L590 578.8 L600 586 L612 600 L624 606.8 L636 608 L648 620 L660 638 L676 650 L688 642 L702 636 L716 646 L733.2 649.2 L744 649.2" stroke-width="1.4"/>
<path d="M744 649.2 L744.8 662 L756 670 L766 676 L766 694 L760 714 L756 730 L770 738 L774 750 L782 770 L786 782.8 L792 806 L790 822 L798 834 L816 830 L826 846 L834 848 L848 838 L868 844 L876 856 L872 866 L880 878 L896 868 L916 860 L936 860 L956 868 L968 886 L978 889.2" stroke-width="1.4"/>
<path d="M790 822 L780 822 L770 830 L760 846 L752 852 L750 866.8 L736 866.8 L718 862 L706 862 L696 878 L682 880 L670 878 L658 870 L650 854 L632 838 L612 824 L596 820 L578 818 L570 804 L564 786 L556 790 L544 796 L536 808 L524 804 L512 808 L496 800 L476 798 L452 796 L440 802.8 L430 790 L412 796 L392 792 L366 790 L356 796 L320 810 L310 822 L308 830 L298 832" stroke-width="1.4"/>
<path d="M682 880 L680 898 L674 914 L672 922 L684 924 L694 930 L684 940 L672 944 L656 946 L654 958 L648 966" stroke-width="1.4"/>
<path d="M310 934 L320 930 L340 942 L360 954 L396 954 L404 966" stroke-width="1.4"/>
<path d="M1110 658 L1096 674 L1076 682 L1070 692 L1056 704 L1032 704 L1028 718 L1020 724 L984 722 L978 734 L968 744 L974 758 L988 758 L986 782 L998 786 L1000 800 L1016 806 L1018 838 L1008 846 L1016 874 L988 870 L978 889.2 L978 910 L972 926 L984 950 L982 966" stroke-width="1.4"/>
<path d="M1090 678 L1098 672 L1108 660 L1126 662 L1138 658 L1138.8 648 L1144 644 L1144 632 L1158 628 L1161.2 608 L1170 604 L1168 586 L1158 582 L1166 570 L1182 568 L1190 562.8 L1202 562.8 L1222 570 L1234 578 L1238 577.2 L1238 562 L1248 558 L1262 562.8 L1274 556 L1278 549.2 L1278 542 L1286 534 L1298 530 L1314 532 L1324 534 L1326 528 L1340 520 L1350 522 L1362 518 L1372 506 L1378 490 L1386 480 L1406 475.2 L1409.2 488 L1422 506 L1441.2 525.2 L1446 508 L1454.8 506 L1457.2 508.8 L1462 504 L1466.8 494 L1498 496 L1506 492 L1530 492 L1530 468 L1534 464 L1550 465.2 L1566 469.2" stroke-width="1.4"/>
<path d="M1576 470 L1592 488 L1602 490 L1610 502 L1610 510 L1616 518 L1630 517.2 L1644 510 L1668 512 L1678 504 L1688.8 494 L1686 482 L1684.8 464 L1694 460 L1696 464 L1708 454 L1726 446 L1740 444 L1746 440 L1746 426 L1738 420 L1742.8 400 L1754 404 L1754 414 L1764 420 L1782 414 L1788 426 L1800 435.2 L1810 432 L1822 422 L1834 428 L1834 418.8 L1844 417.2 L1844.8 429.2 L1852 429.2 L1860 423.2 L1874 428 L1888 426 L1892 434 L1902 438 L1920 438.8" stroke-width="1.4"/>
<path d="M1898 652 L1884 660 L1868 662.8 L1856 654 L1848.8 634.8 L1838 642 L1828 664 L1822.8 670 L1821.2 694 L1822.8 714 L1824 732 L1814 736 L1800 740 L1798 750 L1803.2 770 L1800 782 L1788 784 L1784 789.2 L1794 798 L1796 814 L1808 817.2 L1808 822 L1792 824 L1788 834 L1790 842 L1786 846 L1778 848 L1770 864 L1754 878 L1745.2 892 L1746.8 914 L1742.8 922 L1734 934 L1734.8 944 L1726 950 L1730 957.2 L1737.2 956" stroke-width="1.4"/>
<path d="M1920 438.8 L1950 442 L1952 433.2 L1980 432 L2012.8 432 L2018 417.2 L2026 416 L2028 411.2 L2042 410.8 L2046 373.2 L2068 376 L2074 372 L2080 373.2" stroke-width="1.4"/>
<path d="M2084 322.4 L2080 342 L2079.2 352 L2094 354.8 L2094.8 374 L2082 374" stroke-width="1.4"/>
<path d="M2092.8 376 L2091.2 407.2 L2102 410 L2101.2 428 L2116 442 L2124.8 452 L2124 462 L2126.8 471.2 L2118 470 L2106.8 471.2 L2104 480 L2106 488 L2100 490 L2094 487.2 L2086 498 L2085.2 508 L2076 512 L2060 514 L2056 522 L2056 534 L2052 538 L2046 540 L2044 558 L2038 576 L2040 580 L2012 582 L1998 586 L1995.2 594.8 L1988.8 598 L1984 594.8 L1980 586 L1972 584 L1962 578 L1940 577.2 L1935.2 586 L1933.2 596 L1938.8 605.2 L1930 628 L1918 628.8 L1912 636 L1910 644 L1900 652" stroke-width="1.4"/>
<path d="M2188 322.4 L2190 362 L2208 366 L2228.8 368 L2226.8 392 L2232 390 L2244 396 L2248 401.2 L2260.8 404.8 L2258.8 422 L2262 428 L2272 430 L2278.8 426.8 L2279.2 390 L2282 369.2 L2294 366 L2296 362 L2290 357.2 L2294 353.2 L2308 353.2 L2314 346.8 L2324 342.8 L2348 341.2 L2362 322.4" stroke-width="1.4"/>
<path d="M2386 322.4 L2390 329.2 L2398 329.2 L2404 322.4" stroke-width="1.4"/>
<path d="M404 966 L418 972 L422 986 L412 1000 L410 1026 L418 1034 L428 1036 L440 1046 L456 1054 L466 1064.8" stroke-width="1.4"/>
<path d="M294.4 1042 L340 1043.2 L380 1042 L418 1038" stroke-width="1.4"/>
<path d="M652 960 L642 972 L632 972 L624 980 L620.8 1000 L623.2 1014 L614 1020 L611.2 1032 L608 1042 L618 1042.8 L624.8 1050 L626 1060 L620 1064.8 L610 1064 L606 1056 L607.2 1048.8 L602 1046 L596 1052 L588 1054 L578 1064.8 L560 1064.8 L556 1072 L558 1082 L548 1083.2 L538 1087.2 L528 1094 L520 1092 L512 1086 L496 1088 L468 1089.2" stroke-width="1.4"/>
<path d="M466 1066 L468 1089.2 L472 1112 L476 1132 L484 1152 L492 1176 L496 1196 L497.2 1230 L484 1238 L468 1242 L456 1256 L448 1270 L444 1280 L448 1286 L462 1291.2 L476 1300 L478 1308 L474 1328 L470 1350 L472 1360 L478 1366 L480 1380 L480 1388 L488 1398 L496 1410 L498 1420 L502 1430 L511.2 1436 L498 1440 L499.2 1446 L508 1456 L508.8 1468 L502 1484 L484 1486 L476 1496 L456 1516 L440 1536 L420 1564 L410 1574 L410 1586" stroke-width="1.4"/>
<path d="M474 1352 L488 1350 L498 1356 L508 1350 L520 1340 L522 1330 L528 1323.2 L560 1321.2 L576 1315.2 L586 1314 L596 1318 L624 1316.8 L640 1320 L652 1324.8 L668 1324.8 L670 1330 L684 1330 L704 1336.8 L720 1336 L722 1346 L726 1354 L738 1354 L744 1351.2 L756.8 1356 L756 1366 L760 1368 L763.2 1364 L764 1354 L776 1358 L784.8 1356 L792 1348 L800 1356 L822 1358 L824 1370 L828.8 1374 L831.2 1362 L840 1356 L855.2 1349.2 L860 1360 L868 1379.2 L880 1372 L892 1366 L898 1371.2 L908 1370 L914 1366 L928 1366 L936 1376 L952 1392 L958.8 1384 L956 1368 L952.8 1352 L960 1328 L972 1314 L980 1310 L979.2 1302 L1012 1298 L1044 1298" stroke-width="1.4"/>
<path d="M984 960 L968.8 972 L968 986 L980 996 L992 1008 L990 1020 L1000 1030 L1006 1050 L1020 1062 L1036 1068 L1043.2 1076 L1042 1092 L1036 1102 L1046 1106 L1060 1102 L1086 1114 L1080 1124 L1088 1136 L1103.2 1144 L1103.2 1156 L1092 1164 L1076 1179.2 L1064 1186 L1050 1186 L1038 1180 L1036 1174 L1014 1172.8 L1010 1184 L1002 1194 L1012 1204 L1023.2 1216 L1024 1228 L1019.2 1234 L1024 1250 L1026 1276 L1036 1290 L1038 1298 L1044 1298 L1048 1303.2 L1060 1304.8 L1072.8 1300 L1076 1288 L1078 1274 L1084 1272.8 L1110 1281.2" stroke-width="1.4"/>
<path d="M1090 1274 L1106 1281.2 L1118 1280 L1126 1272 L1136 1267.2 L1156 1271.2 L1176 1268 L1186 1280 L1196 1292 L1194.8 1300 L1204 1316 L1218 1330 L1220 1342 L1200 1346 L1196 1348 L1206 1360 L1208 1376 L1212 1390 L1230 1400 L1250 1400 L1258 1396 L1266 1397.2 L1269.2 1412 L1284 1416 L1280 1424 L1286 1432 L1292 1450 L1286 1458 L1290 1476 L1302 1490 L1310 1490 L1318 1482 L1334 1482 L1346 1498 L1356 1498 L1366 1496 L1368 1504 L1374 1504 L1382 1496 L1410 1490 L1420 1482 L1428 1480 L1438 1500 L1448 1518 L1458 1524.8 L1468 1538 L1473.2 1536 L1477.2 1521.2 L1488 1520 L1490 1527.2 L1506 1532 L1520 1540 L1532 1548 L1540 1546 L1546 1540 L1554 1554 L1570 1552 L1582 1572 L1594 1574 L1606 1570 L1618 1568 L1638 1570 L1666 1560 L1676 1536 L1686 1526 L1696 1518 L1694 1506 L1706 1490 L1704 1460 L1694 1448 L1684 1444 L1702 1430 L1724 1420 L1726 1408 L1734 1398 L1750 1404 L1770 1400 L1790 1394 L1800 1394" stroke-width="1.4"/>
<path d="M1737.2 956 L1740 960 L1746 966 L1756 966 L1772 962 L1774 980 L1768 988 L1778 998 L1786 1000 L1789.2 1012 L1786 1036 L1770 1052 L1756 1054 L1756 1060 L1774 1052 L1782 1058 L1781.2 1071.2 L1766 1072 L1762 1068 L1762 1074 L1773.2 1086 L1766 1098 L1754 1102 L1748 1110 L1748 1132 L1754 1142 L1762 1148 L1770 1164 L1778 1180 L1794 1196 L1808 1202 L1818 1218 L1826.8 1234 L1822 1246 L1814 1246 L1812 1256 L1816 1264 L1806 1268 L1804 1278 L1794 1288 L1792 1304 L1789.2 1328 L1782 1338 L1774 1346 L1778 1356 L1788 1364 L1800 1378 L1800 1394 L1814 1404 L1834 1419.2 L1850 1414 L1862 1407.2 L1882 1404.8 L1884 1408 L1890 1408 L1902 1398 L1910 1398 L1920 1406" stroke-width="1.4"/>
<path d="M1900 1396 L1912 1400 L1924 1404 L1940 1404 L1952 1408 L1962 1418 L1968 1434 L1968.8 1448 L1964 1463.2 L1994 1463.2 L1996 1450 L2004 1444.8 L2012 1448.8 L2020 1458 L2021.2 1471.2 L2036 1471.2 L2048.8 1468 L2050 1460 L2060 1454.8 L2070 1458 L2074 1468 L2082 1476 L2092 1473.2 L2098.8 1474.8 L2101.2 1486 L2108 1488.8 L2116 1487.2 L2120 1480 L2128 1479.2 L2136 1488 L2152 1504 L2162 1518 L2164 1528 L2172 1540 L2184.8 1547.2 L2196 1540 L2210 1536 L2216.8 1526 L2216 1516 L2208 1504 L2204 1484 L2202.8 1464 L2216 1462 L2226 1452.8 L2234 1443.2 L2248 1440 L2252 1436" stroke-width="1.4"/>
<path d="M2116 1487.2 L2106 1498 L2104.8 1508 L2110 1514 L2108 1524 L2100 1534 L2082 1540.8 L2078.8 1562" stroke-width="1.4"/>
<path d="M2252 1408 L2278 1407.2 L2292 1395.2 L2312 1390 L2318 1384 L2319.2 1374 L2328 1370 L2332 1354 L2338 1350 L2340 1356 L2347.2 1354 L2344.8 1338 L2350 1336 L2358 1344.8 L2380 1346 L2388 1350 L2387.2 1358 L2380 1360 L2382 1366 L2396 1368 L2410 1368.8 L2414.8 1364 L2416 1354 L2424 1346 L2438 1346 L2454 1334 L2460 1350 L2466 1367.2 L2476 1368 L2484 1364.8 L2496 1368 L2508 1364.8 L2528 1366 L2540 1376 L2542 1386 L2552 1396 L2564 1399.2 L2576 1408 L2580 1420 L2588 1428 L2602 1436 L2602.8 1444 L2598 1452 L2596 1462 L2602 1470 L2612 1468.8 L2616 1460 L2614 1436 L2606 1428 L2608 1418 L2616 1416 L2632 1426 L2648 1442 L2662 1456 L2670 1458 L2684 1470 L2694 1462 L2706.4 1456" stroke-width="1.4"/>
<path d="M410 1586 L416 1596 L416 1610 L412 1616 L418 1624 L424 1628" stroke-width="1.4"/>
<path d="M295.2 1598.5 L299.2 1590.4 L314.4 1586.3 L324.5 1591.4 L336.7 1587.9 L346.8 1590.4 L361 1598.5 L367 1608.6 L401.5 1626.8 L403.5 1624.4 L424.1 1633.9 L424.7 1624.8 L419.7 1618.7 L412.6 1615.7 L415.6 1604.5 L414.6 1593.4 L410.6 1582.3 L409.6 1575.2 L420.7 1560" stroke-width="1.4"/>
<path d="M401.5 1626.8 L395.4 1638.9 L390.3 1655.1 L386.3 1667.3 L373.1 1679.4 L374.1 1695.6" stroke-width="1.4"/>
<path d="M295.2 1684.5 L310.4 1684.5 L325.5 1678 L336.7 1686.5 L340.7 1695.6 L346.8 1703.3 L352.9 1699.7 L361 1698.1 L374.1 1696.6 L381.2 1696.6 L383.2 1703.7 L389.3 1711.8 L398.4 1712.8 L403.5 1718.9 L406.5 1728 L413.6 1727 L420.7 1726 L423.7 1731.1 L424.1 1741.2 L419.7 1750.3 L413.6 1757.4 L406.5 1760.4" stroke-width="1.4"/>
<path d="M424.1 1741.2 L433.8 1738.1 L438.9 1734.1 L441.9 1728 L451.1 1728 L454.1 1733.1 L461.2 1739.1 L472.3 1738.1 L490.5 1741.2 L507.7 1742.2 L510.8 1747.2 L520.9 1747.2 L531 1742.2 L542.1 1743.2 L548.2 1750.3 L551.3 1755.3 L558.3 1757.4 L562.4 1763.4 L564.4 1766.9 L571.5 1766.1 L578.6 1763.4 L582.6 1754.3 L587.7 1749.3 L599.8 1745.2 L624.1 1744.2 L628.2 1741.2 L650.4 1739.1 L657.5 1732.1 L661.6 1719.9 L667.7 1715.9 L677.8 1714.9 L684.9 1710.8 L693 1711.8 L700 1715.9" stroke-width="1.4"/>
<path d="M682.8 1710.8 L686.9 1702.7 L700 1702.7" stroke-width="1.4"/>
<path d="M406.5 1760.4 L400.4 1761.4 L396.4 1758.4 L389.3 1761.4 L381.2 1766.5 L375.1 1779.6 L367 1783.7 L364 1789.8 L365 1800.9 L357.9 1803.9 L352.9 1813 L351.9 1823.2 L346.8 1831.3 L339.7 1837.3 L341.7 1842.4 L339.7 1849.5 L329.6 1861.6 L328.6 1865.7 L330.6 1868.7 L317.4 1876.8 L315.4 1892 L307.3 1901.1 L305.3 1913.2 L295.2 1915.3" stroke-width="1.4"/>
<path d="M690 1702.7 L722.4 1699.7 L746.7 1689.1 L760.9 1691.6 L771 1701.7 L782.1 1705.7 L783.1 1713.8 L793.2 1715.9 L800.3 1712.8 L803.4 1721.9 L813.5 1721.9 L819.6 1720.9 L833.7 1725 L836.8 1736.1 L843.8 1743.2 L851.9 1739.1 L857 1740.2 L862.1 1754.3 L863.1 1766.5 L859 1778.6 L855 1784.7 L856 1790.8 L862.1 1794.8 L872.2 1804.9 L874.2 1809.4 L880.3 1804.9 L885.3 1806 L886.4 1825.2 L885.3 1845.4 L900.5 1851.5 L910.6 1856.6 L912.7 1863.6 L912.7 1883.9 L908.6 1886.9 L914.7 1894 L922.8 1898.1 L920.8 1901.1 L909.6 1902.1 L904.6 1904.1 L896.5 1896 L890.4 1902.1 L880.3 1892 L871.2 1893 L865.1 1902.1 L860 1902.1 L860 1885.9 L849.9 1888.9 L841.8 1894 L842.8 1908.2 L845.9 1917.1" stroke-width="1.4"/>
<path d="M690 1711.8 L700.1 1715.9 L710.2 1726 L720.4 1740.2 L723.4 1754.3 L727.4 1770.5 L739.6 1788.7 L746.7 1800.9 L754.8 1811 L764.9 1821.1 L771 1829.2 L781.1 1839.4 L785.1 1851.5 L791.2 1865.7 L794.3 1875.8 L793.2 1894 L791.2 1906.2 L789.2 1917.1" stroke-width="1.4"/>
<path d="M294.2 2004.3 L312.4 2014.4 L325.5 2017 L329.6 2021.5 L327.6 2027.5 L321.5 2034.6 L323.5 2039.7 L330.6 2041.7 L331.6 2047.8 L320.5 2049.8 L321.5 2056.9 L333.6 2060.9 L337.7 2069 L357.9 2072.1 L364 2074.1 L371.1 2086.2 L376.2 2086.2 L385.3 2070 L394.4 2065 L405.5 2074.1 L412.6 2075.1 L415.6 2080.2 L411.6 2083.2 L405.5 2081.2 L395.4 2088.3 L401.5 2102.4 L410.6 2106.5 L410.6 2112.6 L421.7 2118.6 L433.8 2123.7 L434.9 2130.8 L425.7 2132.8 L421.7 2140.9 L423.7 2149 L435.9 2152 L450 2148 L462.2 2148 L476.4 2153 L494.6 2157.1 L511.8 2162.1 L529 2160.1 L539.1 2156.1 L549.2 2159.1 L573.5 2160.1 L596.8 2169.2 L612 2166.2 L624.1 2161.1 L636.3 2144.9 L650.4 2132.8 L668.7 2128.7 L684.9 2125.7 L700 2121.7" stroke-width="1.4"/>
<path d="M410.6 2112.6 L405.5 2122.7 L401.5 2128.7 L392.3 2132.8 L390.3 2147 L393.4 2161.1 L399.4 2178.3 L405.5 2185.4 L417.7 2193.5 L425.7 2205.7 L432.8 2214.8 L423.7 2226.9" stroke-width="1.4"/>
<path d="M793.2 1900 L789.2 1912.1 L785.1 1924.3 L783.1 1937.4 L786.2 1950.6 L788.2 1964.8 L788.2 1976.9 L782.1 1980 L785.1 1985 L793.2 1992.1 L797.3 2003.2 L807.4 2010.3 L821.6 2015.4 L831.7 2013.4 L835.7 2007.3 L847.9 2002.2 L858 1997.2 L868.1 1994.1 L880.3 1996.2 L889.4 2003.2 L892.4 2013.4" stroke-width="1.4"/>
<path d="M841.8 1900 L842.8 1910.1 L847.9 1920.2 L845.9 1930.4 L841.8 1938.5 L829.7 1943.5 L828.7 1954.7 L825.6 1959.7 L815.5 1963.8 L810.4 1972.9 L812.5 1987 L797.3 1987 L793.2 1992.1" stroke-width="1.4"/>
<path d="M690 2124.7 L702.1 2120.6 L716.3 2120.6 L726.4 2121.7 L730.5 2127.7 L738.6 2131.8 L752.8 2129.8 L757.8 2135.8 L771 2133.8 L776 2147 L781.1 2152 L790.2 2156.1 L799.3 2157.1 L816.5 2158.1" stroke-width="1.4"/>
<path d="M1606 1570 L1610 1580 L1608 1588 L1616 1600 L1614 1612 L1606 1620 L1600 1628 L1584 1630 L1582 1636 L1590 1646 L1606 1648 L1608 1654 L1586 1656 L1580 1676 L1592 1678 L1596 1692 L1602 1706 L1588 1736 L1590 1754 L1570 1754.8 L1546 1754.8 L1534 1751.2 L1524 1754 L1518 1768 L1506 1774 L1490 1778 L1484 1788 L1481.2 1808 L1486 1810 L1480 1827.2" stroke-width="1.4"/>
<path d="M1682 1954 L1686 1942 L1702 1936 L1730 1936.8 L1746 1939.2 L1750 1946 L1754.8 1938 L1754 1926 L1764 1926 L1764 1940 L1778 1938 L1790 1932 L1806 1918 L1822 1930 L1846 1940 L1862 1944 L1878 1950 L1890 1960 L1898 1976" stroke-width="1.4"/>
<path d="M1682 1954 L1690 1956 L1686 1966 L1678 1968 L1662 1970 L1662 1982 L1670 1988 L1676 2000 L1678 2014 L1698 2016 L1702 2028 L1714 2040 L1724 2046 L1722 2054 L1710 2064 L1704 2072 L1714 2082 L1732 2092 L1722 2100 L1728 2108 L1726 2120 L1716 2128" stroke-width="1.4"/>
<path d="M1728.7 2119.3 L1725.8 2123.6 L1715.7 2127.9 L1714.9 2133.7 L1699.8 2133 L1698.3 2127.9 L1689.6 2125.8 L1681 2123.6 L1678.8 2122.2" stroke-width="1.4"/>
<path d="M1668.7 2127.9 L1667.9 2138.1 L1657.8 2145.3 L1655.7 2158.3 L1652.8 2164.1 L1653.5 2174.2 L1649.9 2177.1 L1666.5 2183.6 L1672.3 2190.1 L1681 2191.6 L1692.5 2195.2 L1699.8 2200.2 L1704.1 2201.7 L1712.8 2207.5 L1721.4 2208.9 L1731.6 2206 L1744.6 2208.9 L1756.1 2206 L1772 2203.8 L1777.8 2208.9 L1787.9 2213.2 L1798.1 2213.2 L1808.2 2219 L1814 2221.9" stroke-width="1.4"/>
<path d="M1646.3 2180 L1636.1 2179.3 L1626 2174.2 L1615.9 2173.5 L1609.4 2177.1 L1603.6 2190.8" stroke-width="1.4"/>
<path d="M1720 2060 L1711.3 2065.8 L1708.4 2073 L1715.7 2080.2 L1724.3 2086.7 L1731.6 2090.4 L1732.3 2094 L1725.8 2094.7" stroke-width="1.4"/>
<path d="M2078 1560 L2072 1598 L2084 1604 L2090 1614 L2088 1628 L2072 1638 L2052 1694 L2094 1710 L2094.8 1748 L2098 1760 L2112 1768 L2114.8 1754.8 L2134 1760 L2158 1758.8 L2172 1772 L2184 1792 L2194 1802 L2200 1820 L2212 1840 L2224 1862 L2220 1868 L2208 1868.8 L2200 1862 L2192 1864 L2188.8 1872 L2194 1882 L2204 1884 L2220 1894 L2238 1902" stroke-width="1.4"/>
<path d="M1900 1980 L1912 1992 L1940 1998 L1964 2012 L1984 2022 L1996 2036 L2012 2036 L2040 2040 L2056 2052 L2072 2058 L2078 2054 L2080 2060" stroke-width="1.4"/>
</g>
</g>
<text x="501.94" y="525" font-size="44" font-weight="bold" font-style="normal" fill="#000" textLength="193.09" lengthAdjust="spacingAndGlyphs">ESTONIA</text>
<text x="527.92" y="761" font-size="44" font-weight="bold" font-style="normal" fill="#000" textLength="156.11" lengthAdjust="spacingAndGlyphs">LATVIA</text>
<text x="352.95" y="927" font-size="44" font-weight="bold" font-style="normal" fill="#000" textLength="242.07" lengthAdjust="spacingAndGlyphs">LITHUANIA</text>
<text x="620.94" y="1204" font-size="44" font-weight="bold" font-style="normal" fill="#000" textLength="200.08" lengthAdjust="spacingAndGlyphs">BELARUS</text>
<text x="1725.92" y="776" font-size="44" font-weight="bold" font-style="normal" fill="#000" textLength="161.10" lengthAdjust="spacingAndGlyphs">RUSSIA</text>
<text x="917.92" y="1684.5" font-size="44" font-weight="bold" font-style="normal" fill="#000" textLength="197.12" lengthAdjust="spacingAndGlyphs">UKRAINE</text>
<text x="756.83" y="1842.5" font-size="44" font-weight="bold" font-style="normal" fill="#000" textLength="115.35" lengthAdjust="spacingAndGlyphs">MOL.</text>
<text x="417.94" y="2003" font-size="44" font-weight="bold" font-style="normal" fill="#000" textLength="217.08" lengthAdjust="spacingAndGlyphs">ROMANIA</text>
<text x="287.79" y="1029" font-size="44" font-weight="bold" font-style="normal" fill="#000" textLength="99.41" lengthAdjust="spacingAndGlyphs">KAL.</text>
<text x="250.44" y="2212.4" font-size="44" font-weight="bold" font-style="normal" fill="#000" textLength="95.67" lengthAdjust="spacingAndGlyphs">SRB.</text>
<text x="1185.95" y="372" font-size="38" font-weight="bold" font-style="normal" fill="#000" textLength="192.05" lengthAdjust="spacingAndGlyphs">Northwest</text>
<text x="1217.97" y="422" font-size="38" font-weight="bold" font-style="normal" fill="#000" textLength="128.03" lengthAdjust="spacingAndGlyphs">District</text>
<text x="1343.93" y="1004" font-size="38" font-weight="bold" font-style="normal" fill="#000" textLength="130.18" lengthAdjust="spacingAndGlyphs">Central</text>
<text x="1343.97" y="1055" font-size="38" font-weight="bold" font-style="normal" fill="#000" textLength="129.03" lengthAdjust="spacingAndGlyphs">District</text>
<text x="2300.00" y="936" font-size="38" font-weight="bold" font-style="normal" fill="#000" textLength="96.00" lengthAdjust="spacingAndGlyphs">Volga</text>
<text x="2282.97" y="988" font-size="38" font-weight="bold" font-style="normal" fill="#000" textLength="129.03" lengthAdjust="spacingAndGlyphs">District</text>
<text x="1780.98" y="1688" font-size="38" font-weight="bold" font-style="normal" fill="#000" textLength="166.06" lengthAdjust="spacingAndGlyphs">Southern</text>
<text x="1796.97" y="1740" font-size="38" font-weight="bold" font-style="normal" fill="#000" textLength="129.03" lengthAdjust="spacingAndGlyphs">District</text>
<text x="1773.98" y="2136" font-size="38" font-weight="bold" font-style="normal" fill="#000" textLength="276.03" lengthAdjust="spacingAndGlyphs">North Caucasus</text>
<text x="1845.97" y="2186" font-size="38" font-weight="bold" font-style="normal" fill="#000" textLength="129.03" lengthAdjust="spacingAndGlyphs">District</text>
<text x="1079.99" y="2207" font-size="46" font-weight="bold" font-style="italic" fill="#0A5AE0" textLength="196.02" lengthAdjust="spacingAndGlyphs">Black Sea</text>
</g>
<rect x="294.5" y="322.5" width="2412.0" height="1906.0" fill="none" stroke="#000" stroke-width="1"/>
<text x="1272.50" y="95.6" font-size="62" font-weight="normal" font-style="normal" fill="#000" textLength="454.55" lengthAdjust="spacingAndGlyphs">WESTERN FSU</text>
<text x="1143.99" y="178.3" font-size="62" font-weight="normal" font-style="normal" fill="#000" textLength="741.04" lengthAdjust="spacingAndGlyphs">Temperature Anomaly (°C)</text>
<text x="1230.99" y="262" font-size="62" font-weight="normal" font-style="normal" fill="#000" textLength="533.03" lengthAdjust="spacingAndGlyphs">January 3 - 9, 2021</text>
<text x="2029.50" y="2270.3" font-size="33" font-weight="normal" font-style="normal" fill="#000" textLength="617.51" lengthAdjust="spacingAndGlyphs">CLIMATE PREDICTION CENTER, NOAA</text>
<text x="2029.49" y="2308.6" font-size="33" font-weight="normal" font-style="normal" fill="#000" textLength="443.53" lengthAdjust="spacingAndGlyphs">Computer generated contours</text>
<text x="2028.48" y="2347" font-size="33" font-weight="normal" font-style="normal" fill="#000" textLength="507.01" lengthAdjust="spacingAndGlyphs">Based on preliminary gridded data</text>
<text x="2028.49" y="2385.3" font-size="33" font-weight="normal" font-style="normal" fill="#000" textLength="634.01" lengthAdjust="spacingAndGlyphs">Normals based on 1981-2010 gridded data</text>
<rect x="2778" y="470" width="73" height="146.3" fill="#CC0000"/>
<rect x="2778" y="616.3" width="73" height="146.3" fill="#FF0000"/>
<rect x="2778" y="762.6" width="73" height="146.3" fill="#FF5555"/>
<rect x="2778" y="909" width="73" height="146.3" fill="#FFAAAA"/>
<rect x="2778" y="1055.3" width="73" height="146.3" fill="#FFD7D7"/>
<rect x="2778" y="1201.6" width="73" height="146.3" fill="#FFFFFF"/>
<rect x="2778" y="1347.9" width="73" height="146.3" fill="#CCFFFF"/>
<rect x="2778" y="1494.2" width="73" height="146.3" fill="#66FFFF"/>
<rect x="2778" y="1640.5" width="73" height="146.3" fill="#55AAFF"/>
<rect x="2778" y="1786.9" width="73" height="146.3" fill="#0080FF"/>
<rect x="2778" y="1933.2" width="73" height="146.3" fill="#0000FF"/>
<rect x="2776" y="614.3" width="77" height="4" fill="#6E6E6E"/>
<rect x="2776" y="760.6" width="77" height="4" fill="#6E6E6E"/>
<rect x="2776" y="907" width="77" height="4" fill="#6E6E6E"/>
<rect x="2776" y="1053.3" width="77" height="4" fill="#6E6E6E"/>
<rect x="2776" y="1199.6" width="77" height="4" fill="#6E6E6E"/>
<rect x="2776" y="1345.9" width="77" height="4" fill="#6E6E6E"/>
<rect x="2776" y="1492.2" width="77" height="4" fill="#6E6E6E"/>
<rect x="2776" y="1638.5" width="77" height="4" fill="#6E6E6E"/>
<rect x="2776" y="1784.9" width="77" height="4" fill="#6E6E6E"/>
<rect x="2776" y="1931.2" width="77" height="4" fill="#6E6E6E"/>
<rect x="2778" y="470" width="73" height="1609.5" fill="none" stroke="#6E6E6E" stroke-width="4"/>
<text x="2877.5" y="645.3" font-size="54">+9</text>
<text x="2877.5" y="791.6" font-size="54">+7</text>
<text x="2877.5" y="938" font-size="54">+5</text>
<text x="2877.5" y="1084.3" font-size="54">+3</text>
<text x="2877.5" y="1230.6" font-size="54">+1</text>
<text x="2877.5" y="1376.9" font-size="54">-1</text>
<text x="2877.5" y="1523.2" font-size="54">-3</text>
<text x="2877.5" y="1669.5" font-size="54">-5</text>
<text x="2877.5" y="1815.9" font-size="54">-7</text>
<text x="2877.5" y="1962.2" font-size="54">-9</text>
<filter id="lb" x="-10%%" y="-10%%" width="120%%" height="120%%"><feGaussianBlur stdDeviation="1.1"/></filter>
<g transform="translate(2831.6 2390.5)" filter="url(#lb)">
<circle r="117.0" fill="#fff"/>
<path d="M-112.5 -32.3 L-102 -24.7 -85 -9.4 -59.5 11.1 -39.1 21.3 -17 26.4 -3.4 28.1 -11.9 34.9 -22.1 40 -37.4 45.1 -35.7 48.8 -10.2 47.6 8.5 38.3 25.5 29.8 51 23.3 49.3 19.6 30.6 19.6 30.6 17 51 2.6 76.5 -23 93.5 -41.7 L105 -51.6 A117.0 117.0 0 1 1 -112.5 -32.3 Z" fill="#0099FF"/>
<path d="M-91.1 -73.4 A117.0 117.0 0 0 1 90.4 -74.2 L59.5 -34.9 34 -4.3 18.7 12.8 8.5 18.7 0 20.1 -8.5 18.7 -18.7 11.1 -32.3 -4.3 -59.5 -34.9 Z" fill="#0016A8"/>
<text x="-51" y="-43.5" font-size="36" font-weight="bold" fill="#fff" textLength="97" lengthAdjust="spacingAndGlyphs">NOAA</text>
<path id="ringTop" d="M-120.3 39.1 A126.5 126.5 0 1 1 120.3 39.1" fill="none"/>
<path id="ringBot" d="M-121.6 67.4 A139.0 139.0 0 0 0 121.6 67.4" fill="none"/>
<text font-size="16.5" font-weight="bold" fill="#6c6c78" stroke="#6c6c78" stroke-width="0.7" textLength="476.9" lengthAdjust="spacingAndGlyphs"><textPath href="#ringTop" textLength="476.9" lengthAdjust="spacingAndGlyphs">NATIONAL OCEANIC AND ATMOSPHERIC ADMINISTRATION</textPath></text>
<text font-size="16.5" font-weight="bold" fill="#6c6c78" stroke="#6c6c78" stroke-width="0.7" textLength="296" lengthAdjust="spacingAndGlyphs"><textPath href="#ringBot" textLength="296" lengthAdjust="spacingAndGlyphs">U.S. DEPARTMENT OF COMMERCE</textPath></text>
</g>
</svg>
</body></html>
